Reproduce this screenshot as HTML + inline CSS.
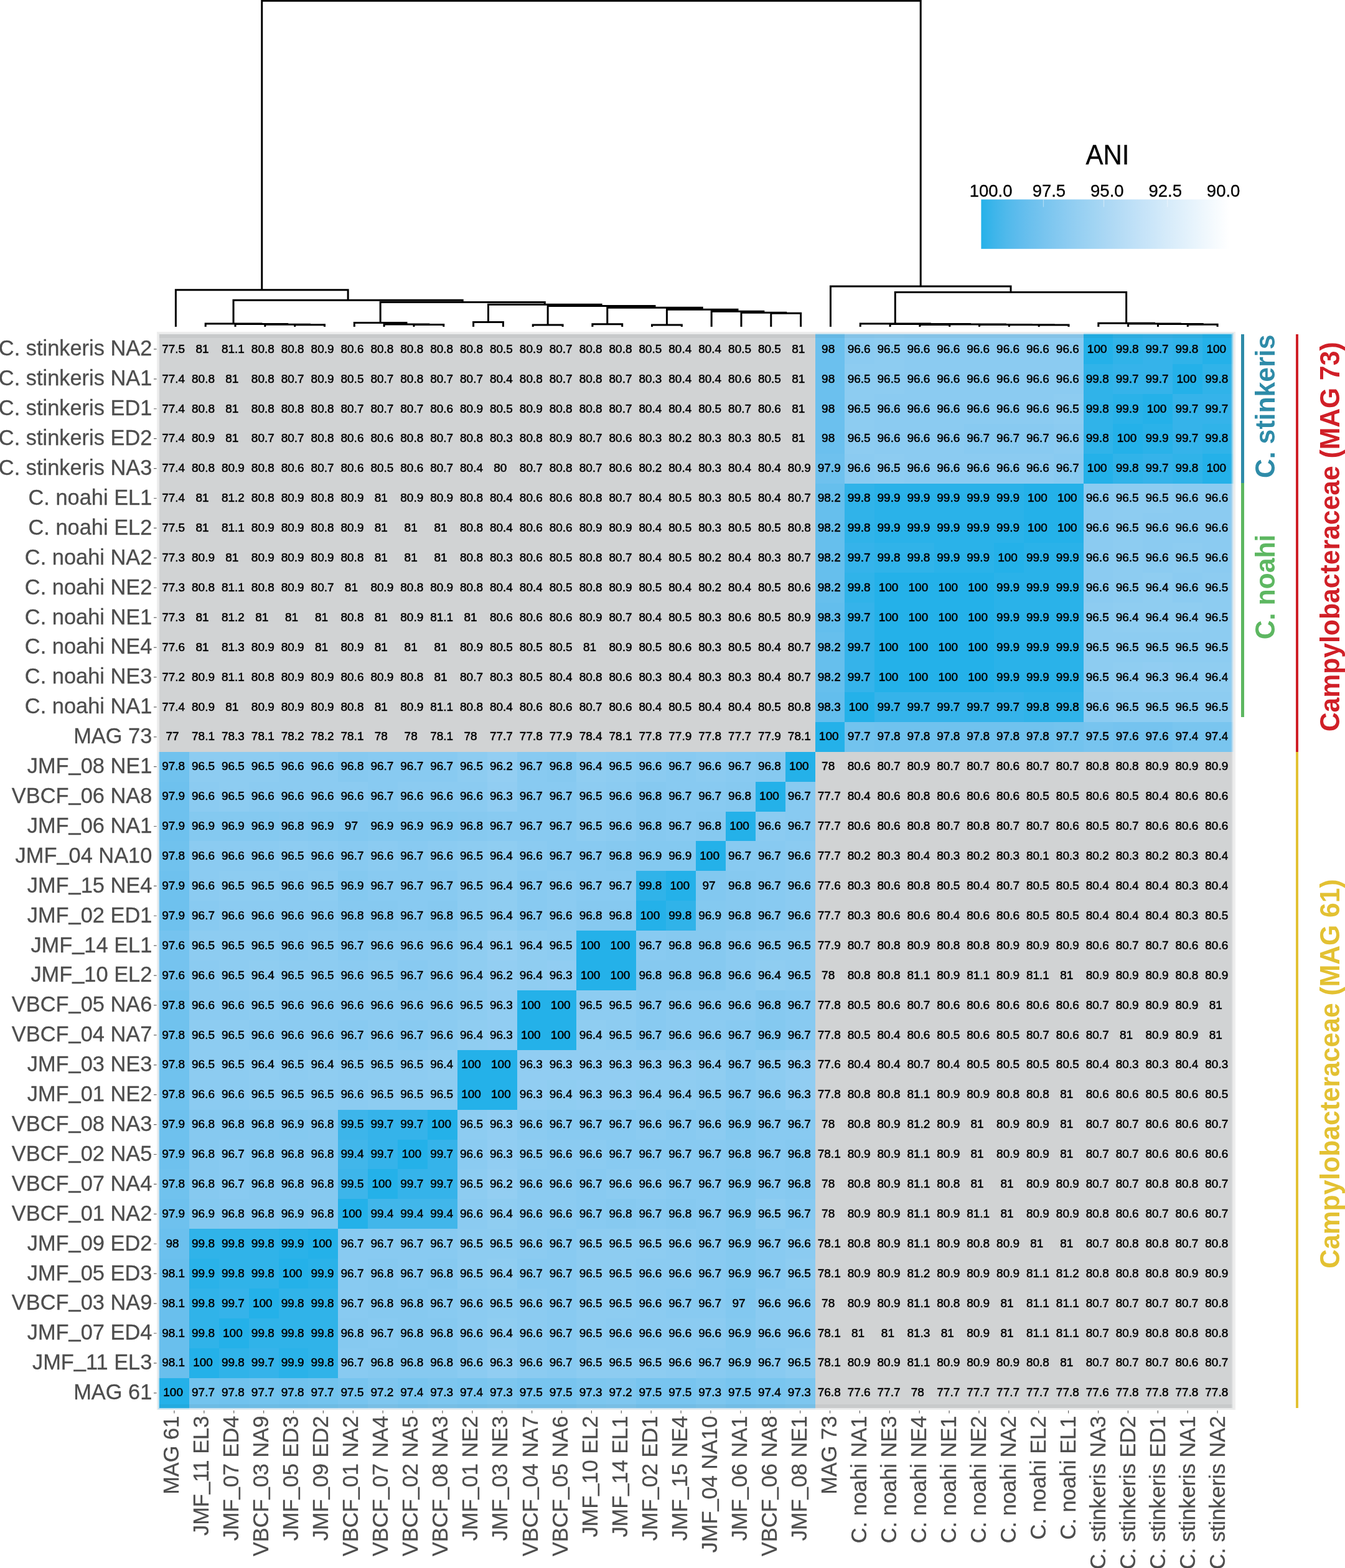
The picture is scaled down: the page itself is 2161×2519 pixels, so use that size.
<!DOCTYPE html>
<html lang="en"><head><meta charset="utf-8"><title>ANI heatmap</title>
<style>
html,body{margin:0;padding:0;background:#fff;}
body{width:2161px;height:2519px;}
svg{display:block;font-family:"Liberation Sans",sans-serif;}
.c text{font-size:19px;text-anchor:middle;fill:#000;stroke:#000;stroke-width:0.55px;}
.rl text,.cl text{font-size:34.4px;text-anchor:end;fill:#4d4d4d;stroke:#4d4d4d;stroke-width:0.3px;}
.den{fill:none;stroke:#000;stroke-width:3;stroke-linejoin:miter;stroke-linecap:butt;}
.an{font-size:42.5px;font-weight:bold;text-anchor:middle;}
.lg text{fill:#000;text-anchor:middle;stroke:#000;stroke-width:0.3px;}
</style></head>
<body>
<svg width="2161" height="2519" viewBox="0 0 2161 2519">
<rect width="2161" height="2519" fill="#fff"/>
<path class="den" d="M473.68 525V521.7H521.5V525M425.86 525V521.2H497.59V521.7M378.04 525V520.6H461.73V521.2M330.22 525V520H419.88V520.6M664.96 525V521.4H712.78V525M617.14 525V521H688.87V521.4M569.32 525V518.5H653V521M760.6 525V517.5H808.42V525M856.24 525V521.9H904.06V525M951.88 525V520.7H999.7V525M1047.52 525V521.9H1095.34V525M1238.8 525V503.2H1286.62V525M1190.98 525V502.2H1262.71V503.2M1143.16 525V500.2H1226.85V502.2M1071.43 521.9V497.3H1185V500.2M975.79 520.7V494.2H1128.22V497.3M880.15 521.9V491.6H1052V494.2M784.51 517.5V489.3H966.08V491.6M611.16 518.5V485.4H875.29V489.3M375.05 520V482.3H743.23V485.4M282.4 525V465.8H559.14V482.3M1908.28 525V521.2H1956.1V525M1860.46 525V520.6H1932.19V521.2M1812.64 525V520H1896.33V520.6M1764.82 525V519.2H1854.48V520M1669.18 525V522H1717V525M1621.36 525V521.7H1693.09V522M1573.54 525V521.4H1657.22V521.7M1477.9 525V521.4H1525.72V525M1501.81 521.4V521H1615.38V521.4M1430.08 525V520.5H1558.6V521M1382.26 525V520H1494.34V520.5M1438.3 520V469.6H1809.65V519.2M1334.44 525V460.1H1623.98V469.6M420.77 465.8V1.3H1479.21V460.1"/>
<g shape-rendering="crispEdges">
<rect x="252" y="532.6" width="1732.74" height="1732.16" fill="#eeeeee"/>
<rect x="254" y="535" width="1728.04" height="1728.76" fill="#d1d3d4"/>
<rect x="1309.58" y="535" width="47.89" height="49.91" fill="#6bc0ee"/>
<rect x="1357.47" y="535" width="47.89" height="49.91" fill="#8bcbf1"/>
<rect x="1405.36" y="535" width="47.89" height="49.91" fill="#8dccf1"/>
<rect x="1453.25" y="535" width="287.34" height="49.91" fill="#8bcbf1"/>
<rect x="1740.59" y="535" width="47.89" height="49.91" fill="#24b1e9"/>
<rect x="1788.48" y="535" width="47.89" height="49.91" fill="#30b3e9"/>
<rect x="1836.37" y="535" width="47.89" height="49.91" fill="#35b3ea"/>
<rect x="1884.26" y="535" width="47.89" height="49.91" fill="#30b3e9"/>
<rect x="1932.15" y="535" width="49.89" height="49.91" fill="#24b1e9"/>
<rect x="1309.58" y="584.91" width="47.89" height="47.91" fill="#6bc0ee"/>
<rect x="1357.47" y="584.91" width="95.78" height="47.91" fill="#8dccf1"/>
<rect x="1453.25" y="584.91" width="287.34" height="47.91" fill="#8bcbf1"/>
<rect x="1740.59" y="584.91" width="47.89" height="47.91" fill="#30b3e9"/>
<rect x="1788.48" y="584.91" width="95.78" height="47.91" fill="#35b3ea"/>
<rect x="1884.26" y="584.91" width="47.89" height="47.91" fill="#24b1e9"/>
<rect x="1932.15" y="584.91" width="49.89" height="47.91" fill="#30b3e9"/>
<rect x="1309.58" y="632.82" width="47.89" height="47.91" fill="#6bc0ee"/>
<rect x="1357.47" y="632.82" width="47.89" height="47.91" fill="#8dccf1"/>
<rect x="1405.36" y="632.82" width="287.34" height="47.91" fill="#8bcbf1"/>
<rect x="1692.7" y="632.82" width="47.89" height="47.91" fill="#8dccf1"/>
<rect x="1740.59" y="632.82" width="47.89" height="47.91" fill="#30b3e9"/>
<rect x="1788.48" y="632.82" width="47.89" height="47.91" fill="#2ab2e9"/>
<rect x="1836.37" y="632.82" width="47.89" height="47.91" fill="#24b1e9"/>
<rect x="1884.26" y="632.82" width="97.78" height="47.91" fill="#35b3ea"/>
<rect x="1309.58" y="680.73" width="47.89" height="47.91" fill="#6bc0ee"/>
<rect x="1357.47" y="680.73" width="47.89" height="47.91" fill="#8dccf1"/>
<rect x="1405.36" y="680.73" width="143.67" height="47.91" fill="#8bcbf1"/>
<rect x="1549.03" y="680.73" width="143.67" height="47.91" fill="#88caf1"/>
<rect x="1692.7" y="680.73" width="47.89" height="47.91" fill="#8bcbf1"/>
<rect x="1740.59" y="680.73" width="47.89" height="47.91" fill="#30b3e9"/>
<rect x="1788.48" y="680.73" width="47.89" height="47.91" fill="#24b1e9"/>
<rect x="1836.37" y="680.73" width="47.89" height="47.91" fill="#2ab2e9"/>
<rect x="1884.26" y="680.73" width="47.89" height="47.91" fill="#35b3ea"/>
<rect x="1932.15" y="680.73" width="49.89" height="47.91" fill="#30b3e9"/>
<rect x="1309.58" y="728.64" width="47.89" height="47.91" fill="#6ec1ee"/>
<rect x="1357.47" y="728.64" width="47.89" height="47.91" fill="#8bcbf1"/>
<rect x="1405.36" y="728.64" width="47.89" height="47.91" fill="#8dccf1"/>
<rect x="1453.25" y="728.64" width="239.45" height="47.91" fill="#8bcbf1"/>
<rect x="1692.7" y="728.64" width="47.89" height="47.91" fill="#88caf1"/>
<rect x="1740.59" y="728.64" width="47.89" height="47.91" fill="#24b1e9"/>
<rect x="1788.48" y="728.64" width="47.89" height="47.91" fill="#30b3e9"/>
<rect x="1836.37" y="728.64" width="47.89" height="47.91" fill="#35b3ea"/>
<rect x="1884.26" y="728.64" width="47.89" height="47.91" fill="#30b3e9"/>
<rect x="1932.15" y="728.64" width="49.89" height="47.91" fill="#24b1e9"/>
<rect x="1309.58" y="776.55" width="47.89" height="47.91" fill="#66bfed"/>
<rect x="1357.47" y="776.55" width="47.89" height="47.91" fill="#30b3e9"/>
<rect x="1405.36" y="776.55" width="239.45" height="47.91" fill="#2ab2e9"/>
<rect x="1644.81" y="776.55" width="95.78" height="47.91" fill="#24b1e9"/>
<rect x="1740.59" y="776.55" width="47.89" height="47.91" fill="#8bcbf1"/>
<rect x="1788.48" y="776.55" width="95.78" height="47.91" fill="#8dccf1"/>
<rect x="1884.26" y="776.55" width="97.78" height="47.91" fill="#8bcbf1"/>
<rect x="1309.58" y="824.46" width="47.89" height="47.91" fill="#66bfed"/>
<rect x="1357.47" y="824.46" width="47.89" height="47.91" fill="#30b3e9"/>
<rect x="1405.36" y="824.46" width="239.45" height="47.91" fill="#2ab2e9"/>
<rect x="1644.81" y="824.46" width="95.78" height="47.91" fill="#24b1e9"/>
<rect x="1740.59" y="824.46" width="47.89" height="47.91" fill="#8bcbf1"/>
<rect x="1788.48" y="824.46" width="47.89" height="47.91" fill="#8dccf1"/>
<rect x="1836.37" y="824.46" width="145.67" height="47.91" fill="#8bcbf1"/>
<rect x="1309.58" y="872.37" width="47.89" height="47.91" fill="#66bfed"/>
<rect x="1357.47" y="872.37" width="47.89" height="47.91" fill="#35b3ea"/>
<rect x="1405.36" y="872.37" width="95.78" height="47.91" fill="#30b3e9"/>
<rect x="1501.14" y="872.37" width="95.78" height="47.91" fill="#2ab2e9"/>
<rect x="1596.92" y="872.37" width="47.89" height="47.91" fill="#24b1e9"/>
<rect x="1644.81" y="872.37" width="95.78" height="47.91" fill="#2ab2e9"/>
<rect x="1740.59" y="872.37" width="47.89" height="47.91" fill="#8bcbf1"/>
<rect x="1788.48" y="872.37" width="47.89" height="47.91" fill="#8dccf1"/>
<rect x="1836.37" y="872.37" width="47.89" height="47.91" fill="#8bcbf1"/>
<rect x="1884.26" y="872.37" width="47.89" height="47.91" fill="#8dccf1"/>
<rect x="1932.15" y="872.37" width="49.89" height="47.91" fill="#8bcbf1"/>
<rect x="1309.58" y="920.28" width="47.89" height="47.91" fill="#66bfed"/>
<rect x="1357.47" y="920.28" width="47.89" height="47.91" fill="#30b3e9"/>
<rect x="1405.36" y="920.28" width="191.56" height="47.91" fill="#24b1e9"/>
<rect x="1596.92" y="920.28" width="143.67" height="47.91" fill="#2ab2e9"/>
<rect x="1740.59" y="920.28" width="47.89" height="47.91" fill="#8bcbf1"/>
<rect x="1788.48" y="920.28" width="47.89" height="47.91" fill="#8dccf1"/>
<rect x="1836.37" y="920.28" width="47.89" height="47.91" fill="#8fcdf1"/>
<rect x="1884.26" y="920.28" width="47.89" height="47.91" fill="#8bcbf1"/>
<rect x="1932.15" y="920.28" width="49.89" height="47.91" fill="#8dccf1"/>
<rect x="1309.58" y="968.19" width="47.89" height="47.91" fill="#63beed"/>
<rect x="1357.47" y="968.19" width="47.89" height="47.91" fill="#35b3ea"/>
<rect x="1405.36" y="968.19" width="191.56" height="47.91" fill="#24b1e9"/>
<rect x="1596.92" y="968.19" width="143.67" height="47.91" fill="#2ab2e9"/>
<rect x="1740.59" y="968.19" width="47.89" height="47.91" fill="#8dccf1"/>
<rect x="1788.48" y="968.19" width="143.67" height="47.91" fill="#8fcdf1"/>
<rect x="1932.15" y="968.19" width="49.89" height="47.91" fill="#8dccf1"/>
<rect x="1309.58" y="1016.1" width="47.89" height="47.91" fill="#66bfed"/>
<rect x="1357.47" y="1016.1" width="47.89" height="47.91" fill="#35b3ea"/>
<rect x="1405.36" y="1016.1" width="191.56" height="47.91" fill="#24b1e9"/>
<rect x="1596.92" y="1016.1" width="143.67" height="47.91" fill="#2ab2e9"/>
<rect x="1740.59" y="1016.1" width="241.45" height="47.91" fill="#8dccf1"/>
<rect x="1309.58" y="1064.01" width="47.89" height="47.91" fill="#66bfed"/>
<rect x="1357.47" y="1064.01" width="47.89" height="47.91" fill="#35b3ea"/>
<rect x="1405.36" y="1064.01" width="191.56" height="47.91" fill="#24b1e9"/>
<rect x="1596.92" y="1064.01" width="143.67" height="47.91" fill="#2ab2e9"/>
<rect x="1740.59" y="1064.01" width="47.89" height="47.91" fill="#8dccf1"/>
<rect x="1788.48" y="1064.01" width="47.89" height="47.91" fill="#8fcdf1"/>
<rect x="1836.37" y="1064.01" width="47.89" height="47.91" fill="#91cdf2"/>
<rect x="1884.26" y="1064.01" width="97.78" height="47.91" fill="#8fcdf1"/>
<rect x="1309.58" y="1111.92" width="47.89" height="47.91" fill="#63beed"/>
<rect x="1357.47" y="1111.92" width="47.89" height="47.91" fill="#24b1e9"/>
<rect x="1405.36" y="1111.92" width="239.45" height="47.91" fill="#35b3ea"/>
<rect x="1644.81" y="1111.92" width="95.78" height="47.91" fill="#30b3e9"/>
<rect x="1740.59" y="1111.92" width="47.89" height="47.91" fill="#8bcbf1"/>
<rect x="1788.48" y="1111.92" width="193.56" height="47.91" fill="#8dccf1"/>
<rect x="1309.58" y="1159.83" width="47.89" height="47.91" fill="#24b1e9"/>
<rect x="1357.47" y="1159.83" width="47.89" height="47.91" fill="#72c3ee"/>
<rect x="1405.36" y="1159.83" width="287.34" height="47.91" fill="#70c2ee"/>
<rect x="1692.7" y="1159.83" width="47.89" height="47.91" fill="#72c3ee"/>
<rect x="1740.59" y="1159.83" width="47.89" height="47.91" fill="#77c4ef"/>
<rect x="1788.48" y="1159.83" width="95.78" height="47.91" fill="#75c3ef"/>
<rect x="1884.26" y="1159.83" width="97.78" height="47.91" fill="#79c5ef"/>
<rect x="254" y="1207.74" width="49.89" height="47.91" fill="#70c2ee"/>
<rect x="303.89" y="1207.74" width="143.67" height="47.91" fill="#8dccf1"/>
<rect x="447.56" y="1207.74" width="95.78" height="47.91" fill="#8bcbf1"/>
<rect x="543.34" y="1207.74" width="47.89" height="47.91" fill="#86c9f0"/>
<rect x="591.23" y="1207.74" width="143.67" height="47.91" fill="#88caf1"/>
<rect x="734.9" y="1207.74" width="47.89" height="47.91" fill="#8dccf1"/>
<rect x="782.79" y="1207.74" width="47.89" height="47.91" fill="#93cef2"/>
<rect x="830.68" y="1207.74" width="47.89" height="47.91" fill="#88caf1"/>
<rect x="878.57" y="1207.74" width="47.89" height="47.91" fill="#86c9f0"/>
<rect x="926.46" y="1207.74" width="47.89" height="47.91" fill="#8fcdf1"/>
<rect x="974.35" y="1207.74" width="47.89" height="47.91" fill="#8dccf1"/>
<rect x="1022.24" y="1207.74" width="47.89" height="47.91" fill="#8bcbf1"/>
<rect x="1070.13" y="1207.74" width="47.89" height="47.91" fill="#88caf1"/>
<rect x="1118.02" y="1207.74" width="47.89" height="47.91" fill="#8bcbf1"/>
<rect x="1165.91" y="1207.74" width="47.89" height="47.91" fill="#88caf1"/>
<rect x="1213.8" y="1207.74" width="47.89" height="47.91" fill="#86c9f0"/>
<rect x="1261.69" y="1207.74" width="47.89" height="47.91" fill="#24b1e9"/>
<rect x="254" y="1255.65" width="49.89" height="47.91" fill="#6ec1ee"/>
<rect x="303.89" y="1255.65" width="47.89" height="47.91" fill="#8bcbf1"/>
<rect x="351.78" y="1255.65" width="47.89" height="47.91" fill="#8dccf1"/>
<rect x="399.67" y="1255.65" width="191.56" height="47.91" fill="#8bcbf1"/>
<rect x="591.23" y="1255.65" width="47.89" height="47.91" fill="#88caf1"/>
<rect x="639.12" y="1255.65" width="143.67" height="47.91" fill="#8bcbf1"/>
<rect x="782.79" y="1255.65" width="47.89" height="47.91" fill="#91cdf2"/>
<rect x="830.68" y="1255.65" width="95.78" height="47.91" fill="#88caf1"/>
<rect x="926.46" y="1255.65" width="47.89" height="47.91" fill="#8dccf1"/>
<rect x="974.35" y="1255.65" width="47.89" height="47.91" fill="#8bcbf1"/>
<rect x="1022.24" y="1255.65" width="47.89" height="47.91" fill="#86c9f0"/>
<rect x="1070.13" y="1255.65" width="95.78" height="47.91" fill="#88caf1"/>
<rect x="1165.91" y="1255.65" width="47.89" height="47.91" fill="#86c9f0"/>
<rect x="1213.8" y="1255.65" width="47.89" height="47.91" fill="#24b1e9"/>
<rect x="1261.69" y="1255.65" width="47.89" height="47.91" fill="#88caf1"/>
<rect x="254" y="1303.56" width="49.89" height="47.91" fill="#6ec1ee"/>
<rect x="303.89" y="1303.56" width="143.67" height="47.91" fill="#84c9f0"/>
<rect x="447.56" y="1303.56" width="47.89" height="47.91" fill="#86c9f0"/>
<rect x="495.45" y="1303.56" width="47.89" height="47.91" fill="#84c9f0"/>
<rect x="543.34" y="1303.56" width="47.89" height="47.91" fill="#82c8f0"/>
<rect x="591.23" y="1303.56" width="143.67" height="47.91" fill="#84c9f0"/>
<rect x="734.9" y="1303.56" width="47.89" height="47.91" fill="#86c9f0"/>
<rect x="782.79" y="1303.56" width="143.67" height="47.91" fill="#88caf1"/>
<rect x="926.46" y="1303.56" width="47.89" height="47.91" fill="#8dccf1"/>
<rect x="974.35" y="1303.56" width="47.89" height="47.91" fill="#8bcbf1"/>
<rect x="1022.24" y="1303.56" width="47.89" height="47.91" fill="#86c9f0"/>
<rect x="1070.13" y="1303.56" width="47.89" height="47.91" fill="#88caf1"/>
<rect x="1118.02" y="1303.56" width="47.89" height="47.91" fill="#86c9f0"/>
<rect x="1165.91" y="1303.56" width="47.89" height="47.91" fill="#24b1e9"/>
<rect x="1213.8" y="1303.56" width="47.89" height="47.91" fill="#8bcbf1"/>
<rect x="1261.69" y="1303.56" width="47.89" height="47.91" fill="#88caf1"/>
<rect x="254" y="1351.47" width="49.89" height="47.91" fill="#70c2ee"/>
<rect x="303.89" y="1351.47" width="143.67" height="47.91" fill="#8bcbf1"/>
<rect x="447.56" y="1351.47" width="47.89" height="47.91" fill="#8dccf1"/>
<rect x="495.45" y="1351.47" width="47.89" height="47.91" fill="#8bcbf1"/>
<rect x="543.34" y="1351.47" width="47.89" height="47.91" fill="#88caf1"/>
<rect x="591.23" y="1351.47" width="47.89" height="47.91" fill="#8bcbf1"/>
<rect x="639.12" y="1351.47" width="47.89" height="47.91" fill="#88caf1"/>
<rect x="687.01" y="1351.47" width="47.89" height="47.91" fill="#8bcbf1"/>
<rect x="734.9" y="1351.47" width="47.89" height="47.91" fill="#8dccf1"/>
<rect x="782.79" y="1351.47" width="47.89" height="47.91" fill="#8fcdf1"/>
<rect x="830.68" y="1351.47" width="47.89" height="47.91" fill="#8bcbf1"/>
<rect x="878.57" y="1351.47" width="95.78" height="47.91" fill="#88caf1"/>
<rect x="974.35" y="1351.47" width="47.89" height="47.91" fill="#86c9f0"/>
<rect x="1022.24" y="1351.47" width="95.78" height="47.91" fill="#84c9f0"/>
<rect x="1118.02" y="1351.47" width="47.89" height="47.91" fill="#24b1e9"/>
<rect x="1165.91" y="1351.47" width="95.78" height="47.91" fill="#88caf1"/>
<rect x="1261.69" y="1351.47" width="47.89" height="47.91" fill="#8bcbf1"/>
<rect x="254" y="1399.38" width="49.89" height="47.91" fill="#6ec1ee"/>
<rect x="303.89" y="1399.38" width="47.89" height="47.91" fill="#8bcbf1"/>
<rect x="351.78" y="1399.38" width="95.78" height="47.91" fill="#8dccf1"/>
<rect x="447.56" y="1399.38" width="47.89" height="47.91" fill="#8bcbf1"/>
<rect x="495.45" y="1399.38" width="47.89" height="47.91" fill="#8dccf1"/>
<rect x="543.34" y="1399.38" width="47.89" height="47.91" fill="#84c9f0"/>
<rect x="591.23" y="1399.38" width="143.67" height="47.91" fill="#88caf1"/>
<rect x="734.9" y="1399.38" width="47.89" height="47.91" fill="#8dccf1"/>
<rect x="782.79" y="1399.38" width="47.89" height="47.91" fill="#8fcdf1"/>
<rect x="830.68" y="1399.38" width="47.89" height="47.91" fill="#88caf1"/>
<rect x="878.57" y="1399.38" width="47.89" height="47.91" fill="#8bcbf1"/>
<rect x="926.46" y="1399.38" width="95.78" height="47.91" fill="#88caf1"/>
<rect x="1022.24" y="1399.38" width="47.89" height="47.91" fill="#30b3e9"/>
<rect x="1070.13" y="1399.38" width="47.89" height="47.91" fill="#24b1e9"/>
<rect x="1118.02" y="1399.38" width="47.89" height="47.91" fill="#82c8f0"/>
<rect x="1165.91" y="1399.38" width="47.89" height="47.91" fill="#86c9f0"/>
<rect x="1213.8" y="1399.38" width="47.89" height="47.91" fill="#88caf1"/>
<rect x="1261.69" y="1399.38" width="47.89" height="47.91" fill="#8bcbf1"/>
<rect x="254" y="1447.29" width="49.89" height="47.91" fill="#6ec1ee"/>
<rect x="303.89" y="1447.29" width="47.89" height="47.91" fill="#88caf1"/>
<rect x="351.78" y="1447.29" width="191.56" height="47.91" fill="#8bcbf1"/>
<rect x="543.34" y="1447.29" width="95.78" height="47.91" fill="#86c9f0"/>
<rect x="639.12" y="1447.29" width="47.89" height="47.91" fill="#88caf1"/>
<rect x="687.01" y="1447.29" width="47.89" height="47.91" fill="#86c9f0"/>
<rect x="734.9" y="1447.29" width="47.89" height="47.91" fill="#8dccf1"/>
<rect x="782.79" y="1447.29" width="47.89" height="47.91" fill="#8fcdf1"/>
<rect x="830.68" y="1447.29" width="47.89" height="47.91" fill="#88caf1"/>
<rect x="878.57" y="1447.29" width="47.89" height="47.91" fill="#8bcbf1"/>
<rect x="926.46" y="1447.29" width="95.78" height="47.91" fill="#86c9f0"/>
<rect x="1022.24" y="1447.29" width="47.89" height="47.91" fill="#24b1e9"/>
<rect x="1070.13" y="1447.29" width="47.89" height="47.91" fill="#30b3e9"/>
<rect x="1118.02" y="1447.29" width="47.89" height="47.91" fill="#84c9f0"/>
<rect x="1165.91" y="1447.29" width="47.89" height="47.91" fill="#86c9f0"/>
<rect x="1213.8" y="1447.29" width="47.89" height="47.91" fill="#88caf1"/>
<rect x="1261.69" y="1447.29" width="47.89" height="47.91" fill="#8bcbf1"/>
<rect x="254" y="1495.2" width="49.89" height="47.91" fill="#75c3ef"/>
<rect x="303.89" y="1495.2" width="143.67" height="47.91" fill="#8dccf1"/>
<rect x="447.56" y="1495.2" width="47.89" height="47.91" fill="#8bcbf1"/>
<rect x="495.45" y="1495.2" width="47.89" height="47.91" fill="#8dccf1"/>
<rect x="543.34" y="1495.2" width="47.89" height="47.91" fill="#88caf1"/>
<rect x="591.23" y="1495.2" width="143.67" height="47.91" fill="#8bcbf1"/>
<rect x="734.9" y="1495.2" width="47.89" height="47.91" fill="#8fcdf1"/>
<rect x="782.79" y="1495.2" width="47.89" height="47.91" fill="#95cff2"/>
<rect x="830.68" y="1495.2" width="47.89" height="47.91" fill="#8fcdf1"/>
<rect x="878.57" y="1495.2" width="47.89" height="47.91" fill="#8dccf1"/>
<rect x="926.46" y="1495.2" width="95.78" height="47.91" fill="#24b1e9"/>
<rect x="1022.24" y="1495.2" width="47.89" height="47.91" fill="#88caf1"/>
<rect x="1070.13" y="1495.2" width="95.78" height="47.91" fill="#86c9f0"/>
<rect x="1165.91" y="1495.2" width="47.89" height="47.91" fill="#8bcbf1"/>
<rect x="1213.8" y="1495.2" width="95.78" height="47.91" fill="#8dccf1"/>
<rect x="254" y="1543.11" width="49.89" height="47.91" fill="#75c3ef"/>
<rect x="303.89" y="1543.11" width="47.89" height="47.91" fill="#8bcbf1"/>
<rect x="351.78" y="1543.11" width="47.89" height="47.91" fill="#8dccf1"/>
<rect x="399.67" y="1543.11" width="47.89" height="47.91" fill="#8fcdf1"/>
<rect x="447.56" y="1543.11" width="95.78" height="47.91" fill="#8dccf1"/>
<rect x="543.34" y="1543.11" width="47.89" height="47.91" fill="#8bcbf1"/>
<rect x="591.23" y="1543.11" width="47.89" height="47.91" fill="#8dccf1"/>
<rect x="639.12" y="1543.11" width="47.89" height="47.91" fill="#88caf1"/>
<rect x="687.01" y="1543.11" width="47.89" height="47.91" fill="#8bcbf1"/>
<rect x="734.9" y="1543.11" width="47.89" height="47.91" fill="#8fcdf1"/>
<rect x="782.79" y="1543.11" width="47.89" height="47.91" fill="#93cef2"/>
<rect x="830.68" y="1543.11" width="47.89" height="47.91" fill="#8fcdf1"/>
<rect x="878.57" y="1543.11" width="47.89" height="47.91" fill="#91cdf2"/>
<rect x="926.46" y="1543.11" width="95.78" height="47.91" fill="#24b1e9"/>
<rect x="1022.24" y="1543.11" width="143.67" height="47.91" fill="#86c9f0"/>
<rect x="1165.91" y="1543.11" width="47.89" height="47.91" fill="#8bcbf1"/>
<rect x="1213.8" y="1543.11" width="47.89" height="47.91" fill="#8fcdf1"/>
<rect x="1261.69" y="1543.11" width="47.89" height="47.91" fill="#8dccf1"/>
<rect x="254" y="1591.02" width="49.89" height="47.91" fill="#70c2ee"/>
<rect x="303.89" y="1591.02" width="95.78" height="47.91" fill="#8bcbf1"/>
<rect x="399.67" y="1591.02" width="47.89" height="47.91" fill="#8dccf1"/>
<rect x="447.56" y="1591.02" width="287.34" height="47.91" fill="#8bcbf1"/>
<rect x="734.9" y="1591.02" width="47.89" height="47.91" fill="#8dccf1"/>
<rect x="782.79" y="1591.02" width="47.89" height="47.91" fill="#91cdf2"/>
<rect x="830.68" y="1591.02" width="95.78" height="47.91" fill="#24b1e9"/>
<rect x="926.46" y="1591.02" width="95.78" height="47.91" fill="#8dccf1"/>
<rect x="1022.24" y="1591.02" width="47.89" height="47.91" fill="#88caf1"/>
<rect x="1070.13" y="1591.02" width="143.67" height="47.91" fill="#8bcbf1"/>
<rect x="1213.8" y="1591.02" width="47.89" height="47.91" fill="#86c9f0"/>
<rect x="1261.69" y="1591.02" width="47.89" height="47.91" fill="#88caf1"/>
<rect x="254" y="1638.93" width="49.89" height="47.91" fill="#70c2ee"/>
<rect x="303.89" y="1638.93" width="95.78" height="47.91" fill="#8dccf1"/>
<rect x="399.67" y="1638.93" width="143.67" height="47.91" fill="#8bcbf1"/>
<rect x="543.34" y="1638.93" width="47.89" height="47.91" fill="#88caf1"/>
<rect x="591.23" y="1638.93" width="47.89" height="47.91" fill="#8bcbf1"/>
<rect x="639.12" y="1638.93" width="47.89" height="47.91" fill="#88caf1"/>
<rect x="687.01" y="1638.93" width="47.89" height="47.91" fill="#8bcbf1"/>
<rect x="734.9" y="1638.93" width="47.89" height="47.91" fill="#8fcdf1"/>
<rect x="782.79" y="1638.93" width="47.89" height="47.91" fill="#91cdf2"/>
<rect x="830.68" y="1638.93" width="95.78" height="47.91" fill="#24b1e9"/>
<rect x="926.46" y="1638.93" width="47.89" height="47.91" fill="#8fcdf1"/>
<rect x="974.35" y="1638.93" width="47.89" height="47.91" fill="#8dccf1"/>
<rect x="1022.24" y="1638.93" width="47.89" height="47.91" fill="#88caf1"/>
<rect x="1070.13" y="1638.93" width="95.78" height="47.91" fill="#8bcbf1"/>
<rect x="1165.91" y="1638.93" width="47.89" height="47.91" fill="#88caf1"/>
<rect x="1213.8" y="1638.93" width="47.89" height="47.91" fill="#84c9f0"/>
<rect x="1261.69" y="1638.93" width="47.89" height="47.91" fill="#88caf1"/>
<rect x="254" y="1686.84" width="49.89" height="47.91" fill="#70c2ee"/>
<rect x="303.89" y="1686.84" width="95.78" height="47.91" fill="#8dccf1"/>
<rect x="399.67" y="1686.84" width="47.89" height="47.91" fill="#8fcdf1"/>
<rect x="447.56" y="1686.84" width="47.89" height="47.91" fill="#8dccf1"/>
<rect x="495.45" y="1686.84" width="47.89" height="47.91" fill="#8fcdf1"/>
<rect x="543.34" y="1686.84" width="143.67" height="47.91" fill="#8dccf1"/>
<rect x="687.01" y="1686.84" width="47.89" height="47.91" fill="#8fcdf1"/>
<rect x="734.9" y="1686.84" width="95.78" height="47.91" fill="#24b1e9"/>
<rect x="830.68" y="1686.84" width="287.34" height="47.91" fill="#91cdf2"/>
<rect x="1118.02" y="1686.84" width="47.89" height="47.91" fill="#8fcdf1"/>
<rect x="1165.91" y="1686.84" width="47.89" height="47.91" fill="#88caf1"/>
<rect x="1213.8" y="1686.84" width="47.89" height="47.91" fill="#8dccf1"/>
<rect x="1261.69" y="1686.84" width="47.89" height="47.91" fill="#91cdf2"/>
<rect x="254" y="1734.75" width="49.89" height="47.91" fill="#70c2ee"/>
<rect x="303.89" y="1734.75" width="95.78" height="47.91" fill="#8bcbf1"/>
<rect x="399.67" y="1734.75" width="143.67" height="47.91" fill="#8dccf1"/>
<rect x="543.34" y="1734.75" width="47.89" height="47.91" fill="#8bcbf1"/>
<rect x="591.23" y="1734.75" width="143.67" height="47.91" fill="#8dccf1"/>
<rect x="734.9" y="1734.75" width="95.78" height="47.91" fill="#24b1e9"/>
<rect x="830.68" y="1734.75" width="47.89" height="47.91" fill="#91cdf2"/>
<rect x="878.57" y="1734.75" width="47.89" height="47.91" fill="#8fcdf1"/>
<rect x="926.46" y="1734.75" width="95.78" height="47.91" fill="#91cdf2"/>
<rect x="1022.24" y="1734.75" width="95.78" height="47.91" fill="#8fcdf1"/>
<rect x="1118.02" y="1734.75" width="47.89" height="47.91" fill="#8dccf1"/>
<rect x="1165.91" y="1734.75" width="47.89" height="47.91" fill="#88caf1"/>
<rect x="1213.8" y="1734.75" width="47.89" height="47.91" fill="#8bcbf1"/>
<rect x="1261.69" y="1734.75" width="47.89" height="47.91" fill="#91cdf2"/>
<rect x="254" y="1782.66" width="49.89" height="47.91" fill="#6ec1ee"/>
<rect x="303.89" y="1782.66" width="143.67" height="47.91" fill="#86c9f0"/>
<rect x="447.56" y="1782.66" width="47.89" height="47.91" fill="#84c9f0"/>
<rect x="495.45" y="1782.66" width="47.89" height="47.91" fill="#86c9f0"/>
<rect x="543.34" y="1782.66" width="47.89" height="47.91" fill="#3db5ea"/>
<rect x="591.23" y="1782.66" width="95.78" height="47.91" fill="#35b3ea"/>
<rect x="687.01" y="1782.66" width="47.89" height="47.91" fill="#24b1e9"/>
<rect x="734.9" y="1782.66" width="47.89" height="47.91" fill="#8dccf1"/>
<rect x="782.79" y="1782.66" width="47.89" height="47.91" fill="#91cdf2"/>
<rect x="830.68" y="1782.66" width="47.89" height="47.91" fill="#8bcbf1"/>
<rect x="878.57" y="1782.66" width="143.67" height="47.91" fill="#88caf1"/>
<rect x="1022.24" y="1782.66" width="47.89" height="47.91" fill="#8bcbf1"/>
<rect x="1070.13" y="1782.66" width="47.89" height="47.91" fill="#88caf1"/>
<rect x="1118.02" y="1782.66" width="47.89" height="47.91" fill="#8bcbf1"/>
<rect x="1165.91" y="1782.66" width="47.89" height="47.91" fill="#84c9f0"/>
<rect x="1213.8" y="1782.66" width="95.78" height="47.91" fill="#88caf1"/>
<rect x="254" y="1830.57" width="49.89" height="47.91" fill="#6ec1ee"/>
<rect x="303.89" y="1830.57" width="47.89" height="47.91" fill="#86c9f0"/>
<rect x="351.78" y="1830.57" width="47.89" height="47.91" fill="#88caf1"/>
<rect x="399.67" y="1830.57" width="143.67" height="47.91" fill="#86c9f0"/>
<rect x="543.34" y="1830.57" width="47.89" height="47.91" fill="#41b6ea"/>
<rect x="591.23" y="1830.57" width="47.89" height="47.91" fill="#35b3ea"/>
<rect x="639.12" y="1830.57" width="47.89" height="47.91" fill="#24b1e9"/>
<rect x="687.01" y="1830.57" width="47.89" height="47.91" fill="#35b3ea"/>
<rect x="734.9" y="1830.57" width="47.89" height="47.91" fill="#8bcbf1"/>
<rect x="782.79" y="1830.57" width="47.89" height="47.91" fill="#91cdf2"/>
<rect x="830.68" y="1830.57" width="47.89" height="47.91" fill="#8dccf1"/>
<rect x="878.57" y="1830.57" width="95.78" height="47.91" fill="#8bcbf1"/>
<rect x="974.35" y="1830.57" width="191.56" height="47.91" fill="#88caf1"/>
<rect x="1165.91" y="1830.57" width="47.89" height="47.91" fill="#86c9f0"/>
<rect x="1213.8" y="1830.57" width="47.89" height="47.91" fill="#88caf1"/>
<rect x="1261.69" y="1830.57" width="47.89" height="47.91" fill="#86c9f0"/>
<rect x="254" y="1878.48" width="49.89" height="47.91" fill="#70c2ee"/>
<rect x="303.89" y="1878.48" width="47.89" height="47.91" fill="#86c9f0"/>
<rect x="351.78" y="1878.48" width="47.89" height="47.91" fill="#88caf1"/>
<rect x="399.67" y="1878.48" width="143.67" height="47.91" fill="#86c9f0"/>
<rect x="543.34" y="1878.48" width="47.89" height="47.91" fill="#3db5ea"/>
<rect x="591.23" y="1878.48" width="47.89" height="47.91" fill="#24b1e9"/>
<rect x="639.12" y="1878.48" width="95.78" height="47.91" fill="#35b3ea"/>
<rect x="734.9" y="1878.48" width="47.89" height="47.91" fill="#8dccf1"/>
<rect x="782.79" y="1878.48" width="47.89" height="47.91" fill="#93cef2"/>
<rect x="830.68" y="1878.48" width="95.78" height="47.91" fill="#8bcbf1"/>
<rect x="926.46" y="1878.48" width="47.89" height="47.91" fill="#88caf1"/>
<rect x="974.35" y="1878.48" width="95.78" height="47.91" fill="#8bcbf1"/>
<rect x="1070.13" y="1878.48" width="95.78" height="47.91" fill="#88caf1"/>
<rect x="1165.91" y="1878.48" width="47.89" height="47.91" fill="#84c9f0"/>
<rect x="1213.8" y="1878.48" width="47.89" height="47.91" fill="#88caf1"/>
<rect x="1261.69" y="1878.48" width="47.89" height="47.91" fill="#86c9f0"/>
<rect x="254" y="1926.39" width="49.89" height="47.91" fill="#6ec1ee"/>
<rect x="303.89" y="1926.39" width="47.89" height="47.91" fill="#84c9f0"/>
<rect x="351.78" y="1926.39" width="95.78" height="47.91" fill="#86c9f0"/>
<rect x="447.56" y="1926.39" width="47.89" height="47.91" fill="#84c9f0"/>
<rect x="495.45" y="1926.39" width="47.89" height="47.91" fill="#86c9f0"/>
<rect x="543.34" y="1926.39" width="47.89" height="47.91" fill="#24b1e9"/>
<rect x="591.23" y="1926.39" width="143.67" height="47.91" fill="#41b6ea"/>
<rect x="734.9" y="1926.39" width="47.89" height="47.91" fill="#8bcbf1"/>
<rect x="782.79" y="1926.39" width="47.89" height="47.91" fill="#8fcdf1"/>
<rect x="830.68" y="1926.39" width="95.78" height="47.91" fill="#8bcbf1"/>
<rect x="926.46" y="1926.39" width="47.89" height="47.91" fill="#88caf1"/>
<rect x="974.35" y="1926.39" width="47.89" height="47.91" fill="#86c9f0"/>
<rect x="1022.24" y="1926.39" width="47.89" height="47.91" fill="#88caf1"/>
<rect x="1070.13" y="1926.39" width="47.89" height="47.91" fill="#86c9f0"/>
<rect x="1118.02" y="1926.39" width="47.89" height="47.91" fill="#88caf1"/>
<rect x="1165.91" y="1926.39" width="47.89" height="47.91" fill="#84c9f0"/>
<rect x="1213.8" y="1926.39" width="47.89" height="47.91" fill="#8dccf1"/>
<rect x="1261.69" y="1926.39" width="47.89" height="47.91" fill="#88caf1"/>
<rect x="254" y="1974.3" width="49.89" height="47.91" fill="#6bc0ee"/>
<rect x="303.89" y="1974.3" width="143.67" height="47.91" fill="#30b3e9"/>
<rect x="447.56" y="1974.3" width="47.89" height="47.91" fill="#2ab2e9"/>
<rect x="495.45" y="1974.3" width="47.89" height="47.91" fill="#24b1e9"/>
<rect x="543.34" y="1974.3" width="191.56" height="47.91" fill="#88caf1"/>
<rect x="734.9" y="1974.3" width="95.78" height="47.91" fill="#8dccf1"/>
<rect x="830.68" y="1974.3" width="47.89" height="47.91" fill="#8bcbf1"/>
<rect x="878.57" y="1974.3" width="47.89" height="47.91" fill="#88caf1"/>
<rect x="926.46" y="1974.3" width="143.67" height="47.91" fill="#8dccf1"/>
<rect x="1070.13" y="1974.3" width="47.89" height="47.91" fill="#8bcbf1"/>
<rect x="1118.02" y="1974.3" width="47.89" height="47.91" fill="#88caf1"/>
<rect x="1165.91" y="1974.3" width="47.89" height="47.91" fill="#84c9f0"/>
<rect x="1213.8" y="1974.3" width="47.89" height="47.91" fill="#88caf1"/>
<rect x="1261.69" y="1974.3" width="47.89" height="47.91" fill="#8bcbf1"/>
<rect x="254" y="2022.21" width="49.89" height="47.91" fill="#69bfed"/>
<rect x="303.89" y="2022.21" width="47.89" height="47.91" fill="#2ab2e9"/>
<rect x="351.78" y="2022.21" width="95.78" height="47.91" fill="#30b3e9"/>
<rect x="447.56" y="2022.21" width="47.89" height="47.91" fill="#24b1e9"/>
<rect x="495.45" y="2022.21" width="47.89" height="47.91" fill="#2ab2e9"/>
<rect x="543.34" y="2022.21" width="47.89" height="47.91" fill="#88caf1"/>
<rect x="591.23" y="2022.21" width="47.89" height="47.91" fill="#86c9f0"/>
<rect x="639.12" y="2022.21" width="47.89" height="47.91" fill="#88caf1"/>
<rect x="687.01" y="2022.21" width="47.89" height="47.91" fill="#86c9f0"/>
<rect x="734.9" y="2022.21" width="47.89" height="47.91" fill="#8dccf1"/>
<rect x="782.79" y="2022.21" width="47.89" height="47.91" fill="#8fcdf1"/>
<rect x="830.68" y="2022.21" width="95.78" height="47.91" fill="#88caf1"/>
<rect x="926.46" y="2022.21" width="95.78" height="47.91" fill="#8dccf1"/>
<rect x="1022.24" y="2022.21" width="95.78" height="47.91" fill="#8bcbf1"/>
<rect x="1118.02" y="2022.21" width="47.89" height="47.91" fill="#88caf1"/>
<rect x="1165.91" y="2022.21" width="47.89" height="47.91" fill="#84c9f0"/>
<rect x="1213.8" y="2022.21" width="47.89" height="47.91" fill="#88caf1"/>
<rect x="1261.69" y="2022.21" width="47.89" height="47.91" fill="#8dccf1"/>
<rect x="254" y="2070.12" width="49.89" height="47.91" fill="#69bfed"/>
<rect x="303.89" y="2070.12" width="47.89" height="47.91" fill="#30b3e9"/>
<rect x="351.78" y="2070.12" width="47.89" height="47.91" fill="#35b3ea"/>
<rect x="399.67" y="2070.12" width="47.89" height="47.91" fill="#24b1e9"/>
<rect x="447.56" y="2070.12" width="95.78" height="47.91" fill="#30b3e9"/>
<rect x="543.34" y="2070.12" width="47.89" height="47.91" fill="#88caf1"/>
<rect x="591.23" y="2070.12" width="95.78" height="47.91" fill="#86c9f0"/>
<rect x="687.01" y="2070.12" width="47.89" height="47.91" fill="#88caf1"/>
<rect x="734.9" y="2070.12" width="47.89" height="47.91" fill="#8bcbf1"/>
<rect x="782.79" y="2070.12" width="47.89" height="47.91" fill="#8dccf1"/>
<rect x="830.68" y="2070.12" width="47.89" height="47.91" fill="#8bcbf1"/>
<rect x="878.57" y="2070.12" width="47.89" height="47.91" fill="#88caf1"/>
<rect x="926.46" y="2070.12" width="95.78" height="47.91" fill="#8dccf1"/>
<rect x="1022.24" y="2070.12" width="47.89" height="47.91" fill="#8bcbf1"/>
<rect x="1070.13" y="2070.12" width="95.78" height="47.91" fill="#88caf1"/>
<rect x="1165.91" y="2070.12" width="47.89" height="47.91" fill="#82c8f0"/>
<rect x="1213.8" y="2070.12" width="95.78" height="47.91" fill="#8bcbf1"/>
<rect x="254" y="2118.03" width="49.89" height="47.91" fill="#69bfed"/>
<rect x="303.89" y="2118.03" width="47.89" height="47.91" fill="#30b3e9"/>
<rect x="351.78" y="2118.03" width="47.89" height="47.91" fill="#24b1e9"/>
<rect x="399.67" y="2118.03" width="143.67" height="47.91" fill="#30b3e9"/>
<rect x="543.34" y="2118.03" width="47.89" height="47.91" fill="#86c9f0"/>
<rect x="591.23" y="2118.03" width="47.89" height="47.91" fill="#88caf1"/>
<rect x="639.12" y="2118.03" width="95.78" height="47.91" fill="#86c9f0"/>
<rect x="734.9" y="2118.03" width="47.89" height="47.91" fill="#8bcbf1"/>
<rect x="782.79" y="2118.03" width="47.89" height="47.91" fill="#8fcdf1"/>
<rect x="830.68" y="2118.03" width="47.89" height="47.91" fill="#8bcbf1"/>
<rect x="878.57" y="2118.03" width="47.89" height="47.91" fill="#88caf1"/>
<rect x="926.46" y="2118.03" width="47.89" height="47.91" fill="#8dccf1"/>
<rect x="974.35" y="2118.03" width="191.56" height="47.91" fill="#8bcbf1"/>
<rect x="1165.91" y="2118.03" width="47.89" height="47.91" fill="#84c9f0"/>
<rect x="1213.8" y="2118.03" width="95.78" height="47.91" fill="#8bcbf1"/>
<rect x="254" y="2165.94" width="49.89" height="47.91" fill="#69bfed"/>
<rect x="303.89" y="2165.94" width="47.89" height="47.91" fill="#24b1e9"/>
<rect x="351.78" y="2165.94" width="47.89" height="47.91" fill="#30b3e9"/>
<rect x="399.67" y="2165.94" width="47.89" height="47.91" fill="#35b3ea"/>
<rect x="447.56" y="2165.94" width="47.89" height="47.91" fill="#2ab2e9"/>
<rect x="495.45" y="2165.94" width="47.89" height="47.91" fill="#30b3e9"/>
<rect x="543.34" y="2165.94" width="47.89" height="47.91" fill="#88caf1"/>
<rect x="591.23" y="2165.94" width="143.67" height="47.91" fill="#86c9f0"/>
<rect x="734.9" y="2165.94" width="47.89" height="47.91" fill="#8bcbf1"/>
<rect x="782.79" y="2165.94" width="47.89" height="47.91" fill="#91cdf2"/>
<rect x="830.68" y="2165.94" width="47.89" height="47.91" fill="#8bcbf1"/>
<rect x="878.57" y="2165.94" width="47.89" height="47.91" fill="#88caf1"/>
<rect x="926.46" y="2165.94" width="143.67" height="47.91" fill="#8dccf1"/>
<rect x="1070.13" y="2165.94" width="47.89" height="47.91" fill="#8bcbf1"/>
<rect x="1118.02" y="2165.94" width="47.89" height="47.91" fill="#88caf1"/>
<rect x="1165.91" y="2165.94" width="47.89" height="47.91" fill="#84c9f0"/>
<rect x="1213.8" y="2165.94" width="47.89" height="47.91" fill="#88caf1"/>
<rect x="1261.69" y="2165.94" width="47.89" height="47.91" fill="#8dccf1"/>
<rect x="254" y="2213.85" width="49.89" height="49.91" fill="#24b1e9"/>
<rect x="303.89" y="2213.85" width="47.89" height="49.91" fill="#72c3ee"/>
<rect x="351.78" y="2213.85" width="47.89" height="49.91" fill="#70c2ee"/>
<rect x="399.67" y="2213.85" width="47.89" height="49.91" fill="#72c3ee"/>
<rect x="447.56" y="2213.85" width="47.89" height="49.91" fill="#70c2ee"/>
<rect x="495.45" y="2213.85" width="47.89" height="49.91" fill="#72c3ee"/>
<rect x="543.34" y="2213.85" width="47.89" height="49.91" fill="#77c4ef"/>
<rect x="591.23" y="2213.85" width="47.89" height="49.91" fill="#7ec6ef"/>
<rect x="639.12" y="2213.85" width="47.89" height="49.91" fill="#79c5ef"/>
<rect x="687.01" y="2213.85" width="47.89" height="49.91" fill="#7cc6ef"/>
<rect x="734.9" y="2213.85" width="47.89" height="49.91" fill="#79c5ef"/>
<rect x="782.79" y="2213.85" width="47.89" height="49.91" fill="#7cc6ef"/>
<rect x="830.68" y="2213.85" width="95.78" height="49.91" fill="#77c4ef"/>
<rect x="926.46" y="2213.85" width="47.89" height="49.91" fill="#7cc6ef"/>
<rect x="974.35" y="2213.85" width="47.89" height="49.91" fill="#7ec6ef"/>
<rect x="1022.24" y="2213.85" width="95.78" height="49.91" fill="#77c4ef"/>
<rect x="1118.02" y="2213.85" width="47.89" height="49.91" fill="#7cc6ef"/>
<rect x="1165.91" y="2213.85" width="47.89" height="49.91" fill="#77c4ef"/>
<rect x="1213.8" y="2213.85" width="47.89" height="49.91" fill="#79c5ef"/>
<rect x="1261.69" y="2213.85" width="47.89" height="49.91" fill="#7cc6ef"/>
<path fill="#f2f2f2" fill-opacity="0.72" fill-rule="evenodd" d="M254 535H1982.04V2263.76H254ZM256 537H1980.04V2261.76H256Z"/>
<rect x="256" y="537" width="1724.04" height="6.3" fill="#000" fill-opacity="0.04"/>
<rect x="256" y="2256.26" width="1724.04" height="5.5" fill="#000" fill-opacity="0.04"/>
<rect x="1978.04" y="537" width="2" height="1724.76" fill="#e4e6e8" fill-opacity="0.3"/>
</g>
<g class="c">
<g transform="translate(0 566.75) scale(1 1.01)"><text x="278.64">77.5</text><text x="324.95">81</text><text x="374.43">81.1</text><text x="422.31">80.8</text><text x="470.2">80.8</text><text x="518.1">80.9</text><text x="565.99">80.6</text><text x="613.88">80.8</text><text x="661.77">80.8</text><text x="709.65">80.8</text><text x="757.55">80.8</text><text x="805.44">80.5</text><text x="853.33">80.9</text><text x="901.22">80.7</text><text x="949.11">80.8</text><text x="997">80.8</text><text x="1044.88">80.5</text><text x="1092.78">80.4</text><text x="1140.67">80.4</text><text x="1188.56">80.5</text><text x="1236.44">80.5</text><text x="1282.75">81</text><text x="1330.64">98</text><text x="1380.12">96.6</text><text x="1428.01">96.5</text><text x="1475.89">96.6</text><text x="1523.79">96.6</text><text x="1571.67">96.6</text><text x="1619.57">96.6</text><text x="1667.46">96.6</text><text x="1715.35">96.6</text><text x="1762.71">100</text><text x="1811.12">99.8</text><text x="1859.02">99.7</text><text x="1906.9">99.8</text><text x="1954.27">100</text></g>
<g transform="translate(0 614.66) scale(1 1.01)"><text x="278.64">77.4</text><text x="326.54">80.8</text><text x="372.84">81</text><text x="422.31">80.8</text><text x="470.2">80.7</text><text x="518.1">80.9</text><text x="565.99">80.5</text><text x="613.88">80.7</text><text x="661.77">80.8</text><text x="709.65">80.7</text><text x="757.55">80.7</text><text x="805.44">80.4</text><text x="853.33">80.8</text><text x="901.22">80.7</text><text x="949.11">80.8</text><text x="997">80.7</text><text x="1044.88">80.3</text><text x="1092.78">80.4</text><text x="1140.67">80.4</text><text x="1188.56">80.6</text><text x="1236.44">80.5</text><text x="1282.75">81</text><text x="1330.64">98</text><text x="1380.12">96.5</text><text x="1428.01">96.5</text><text x="1475.89">96.6</text><text x="1523.79">96.6</text><text x="1571.67">96.6</text><text x="1619.57">96.6</text><text x="1667.46">96.6</text><text x="1715.35">96.6</text><text x="1763.24">99.8</text><text x="1811.12">99.7</text><text x="1859.02">99.7</text><text x="1906.38">100</text><text x="1954.8">99.8</text></g>
<g transform="translate(0 662.56) scale(1 1.01)"><text x="278.64">77.4</text><text x="326.54">80.8</text><text x="372.84">81</text><text x="422.31">80.8</text><text x="470.2">80.8</text><text x="518.1">80.8</text><text x="565.99">80.7</text><text x="613.88">80.7</text><text x="661.77">80.7</text><text x="709.65">80.6</text><text x="757.55">80.9</text><text x="805.44">80.5</text><text x="853.33">80.9</text><text x="901.22">80.8</text><text x="949.11">80.8</text><text x="997">80.7</text><text x="1044.88">80.4</text><text x="1092.78">80.4</text><text x="1140.67">80.5</text><text x="1188.56">80.7</text><text x="1236.44">80.6</text><text x="1282.75">81</text><text x="1330.64">98</text><text x="1380.12">96.5</text><text x="1428.01">96.6</text><text x="1475.89">96.6</text><text x="1523.79">96.6</text><text x="1571.67">96.6</text><text x="1619.57">96.6</text><text x="1667.46">96.6</text><text x="1715.35">96.5</text><text x="1763.24">99.8</text><text x="1811.12">99.9</text><text x="1858.49">100</text><text x="1906.9">99.7</text><text x="1954.8">99.7</text></g>
<g transform="translate(0 710.46) scale(1 1.01)"><text x="278.64">77.4</text><text x="326.54">80.9</text><text x="372.84">81</text><text x="422.31">80.7</text><text x="470.2">80.7</text><text x="518.1">80.8</text><text x="565.99">80.6</text><text x="613.88">80.6</text><text x="661.77">80.8</text><text x="709.65">80.7</text><text x="757.55">80.8</text><text x="805.44">80.3</text><text x="853.33">80.8</text><text x="901.22">80.9</text><text x="949.11">80.7</text><text x="997">80.6</text><text x="1044.88">80.3</text><text x="1092.78">80.2</text><text x="1140.67">80.3</text><text x="1188.56">80.3</text><text x="1236.44">80.5</text><text x="1282.75">81</text><text x="1330.64">98</text><text x="1380.12">96.5</text><text x="1428.01">96.6</text><text x="1475.89">96.6</text><text x="1523.79">96.6</text><text x="1571.67">96.7</text><text x="1619.57">96.7</text><text x="1667.46">96.7</text><text x="1715.35">96.6</text><text x="1763.24">99.8</text><text x="1810.6">100</text><text x="1859.02">99.9</text><text x="1906.9">99.7</text><text x="1954.8">99.8</text></g>
<g transform="translate(0 758.36) scale(1 1.01)"><text x="278.64">77.4</text><text x="326.54">80.8</text><text x="374.43">80.9</text><text x="422.31">80.8</text><text x="470.2">80.6</text><text x="518.1">80.7</text><text x="565.99">80.6</text><text x="613.88">80.5</text><text x="661.77">80.6</text><text x="709.65">80.7</text><text x="757.55">80.4</text><text x="803.85">80</text><text x="853.33">80.7</text><text x="901.22">80.8</text><text x="949.11">80.7</text><text x="997">80.6</text><text x="1044.88">80.2</text><text x="1092.78">80.4</text><text x="1140.67">80.3</text><text x="1188.56">80.4</text><text x="1236.44">80.4</text><text x="1284.34">80.9</text><text x="1332.23">97.9</text><text x="1380.12">96.6</text><text x="1428.01">96.5</text><text x="1475.89">96.6</text><text x="1523.79">96.6</text><text x="1571.67">96.6</text><text x="1619.57">96.6</text><text x="1667.46">96.6</text><text x="1715.35">96.7</text><text x="1762.71">100</text><text x="1811.12">99.8</text><text x="1859.02">99.7</text><text x="1906.9">99.8</text><text x="1954.27">100</text></g>
<g transform="translate(0 806.26) scale(1 1.01)"><text x="278.64">77.4</text><text x="324.95">81</text><text x="374.43">81.2</text><text x="422.31">80.8</text><text x="470.2">80.9</text><text x="518.1">80.8</text><text x="565.99">80.9</text><text x="612.29">81</text><text x="661.77">80.9</text><text x="709.65">80.9</text><text x="757.55">80.8</text><text x="805.44">80.4</text><text x="853.33">80.6</text><text x="901.22">80.6</text><text x="949.11">80.8</text><text x="997">80.7</text><text x="1044.88">80.4</text><text x="1092.78">80.5</text><text x="1140.67">80.3</text><text x="1188.56">80.5</text><text x="1236.44">80.4</text><text x="1284.34">80.7</text><text x="1332.23">98.2</text><text x="1380.12">99.8</text><text x="1428.01">99.9</text><text x="1475.89">99.9</text><text x="1523.79">99.9</text><text x="1571.67">99.9</text><text x="1619.57">99.9</text><text x="1666.93">100</text><text x="1714.82">100</text><text x="1763.24">96.6</text><text x="1811.12">96.5</text><text x="1859.02">96.5</text><text x="1906.9">96.6</text><text x="1954.8">96.6</text></g>
<g transform="translate(0 854.17) scale(1 1.01)"><text x="278.64">77.5</text><text x="324.95">81</text><text x="374.43">81.1</text><text x="422.31">80.9</text><text x="470.2">80.9</text><text x="518.1">80.8</text><text x="565.99">80.9</text><text x="612.29">81</text><text x="660.18">81</text><text x="708.07">81</text><text x="757.55">80.8</text><text x="805.44">80.4</text><text x="853.33">80.6</text><text x="901.22">80.6</text><text x="949.11">80.9</text><text x="997">80.9</text><text x="1044.88">80.4</text><text x="1092.78">80.5</text><text x="1140.67">80.3</text><text x="1188.56">80.5</text><text x="1236.44">80.5</text><text x="1284.34">80.8</text><text x="1332.23">98.2</text><text x="1380.12">99.8</text><text x="1428.01">99.9</text><text x="1475.89">99.9</text><text x="1523.79">99.9</text><text x="1571.67">99.9</text><text x="1619.57">99.9</text><text x="1666.93">100</text><text x="1714.82">100</text><text x="1763.24">96.6</text><text x="1811.12">96.5</text><text x="1859.02">96.6</text><text x="1906.9">96.6</text><text x="1954.8">96.6</text></g>
<g transform="translate(0 902.07) scale(1 1.01)"><text x="278.64">77.3</text><text x="326.54">80.9</text><text x="372.84">81</text><text x="422.31">80.9</text><text x="470.2">80.9</text><text x="518.1">80.9</text><text x="565.99">80.8</text><text x="612.29">81</text><text x="660.18">81</text><text x="708.07">81</text><text x="757.55">80.8</text><text x="805.44">80.3</text><text x="853.33">80.6</text><text x="901.22">80.5</text><text x="949.11">80.8</text><text x="997">80.7</text><text x="1044.88">80.4</text><text x="1092.78">80.5</text><text x="1140.67">80.2</text><text x="1188.56">80.4</text><text x="1236.44">80.3</text><text x="1284.34">80.7</text><text x="1332.23">98.2</text><text x="1380.12">99.7</text><text x="1428.01">99.8</text><text x="1475.89">99.8</text><text x="1523.79">99.9</text><text x="1571.67">99.9</text><text x="1619.04">100</text><text x="1667.46">99.9</text><text x="1715.35">99.9</text><text x="1763.24">96.6</text><text x="1811.12">96.5</text><text x="1859.02">96.6</text><text x="1906.9">96.5</text><text x="1954.8">96.6</text></g>
<g transform="translate(0 949.97) scale(1 1.01)"><text x="278.64">77.3</text><text x="326.54">80.8</text><text x="374.43">81.1</text><text x="422.31">80.8</text><text x="470.2">80.9</text><text x="518.1">80.7</text><text x="564.4">81</text><text x="613.88">80.9</text><text x="661.77">80.8</text><text x="709.65">80.9</text><text x="757.55">80.8</text><text x="805.44">80.4</text><text x="853.33">80.4</text><text x="901.22">80.5</text><text x="949.11">80.8</text><text x="997">80.9</text><text x="1044.88">80.5</text><text x="1092.78">80.4</text><text x="1140.67">80.2</text><text x="1188.56">80.4</text><text x="1236.44">80.5</text><text x="1284.34">80.6</text><text x="1332.23">98.2</text><text x="1380.12">99.8</text><text x="1427.48">100</text><text x="1475.37">100</text><text x="1523.26">100</text><text x="1571.15">100</text><text x="1619.57">99.9</text><text x="1667.46">99.9</text><text x="1715.35">99.9</text><text x="1763.24">96.6</text><text x="1811.12">96.5</text><text x="1859.02">96.4</text><text x="1906.9">96.6</text><text x="1954.8">96.5</text></g>
<g transform="translate(0 997.87) scale(1 1.01)"><text x="278.64">77.3</text><text x="324.95">81</text><text x="374.43">81.2</text><text x="420.73">81</text><text x="468.62">81</text><text x="516.51">81</text><text x="565.99">80.8</text><text x="612.29">81</text><text x="661.77">80.9</text><text x="709.65">81.1</text><text x="755.96">81</text><text x="805.44">80.6</text><text x="853.33">80.6</text><text x="901.22">80.6</text><text x="949.11">80.9</text><text x="997">80.7</text><text x="1044.88">80.4</text><text x="1092.78">80.5</text><text x="1140.67">80.3</text><text x="1188.56">80.6</text><text x="1236.44">80.5</text><text x="1284.34">80.9</text><text x="1332.23">98.3</text><text x="1380.12">99.7</text><text x="1427.48">100</text><text x="1475.37">100</text><text x="1523.26">100</text><text x="1571.15">100</text><text x="1619.57">99.9</text><text x="1667.46">99.9</text><text x="1715.35">99.9</text><text x="1763.24">96.5</text><text x="1811.12">96.4</text><text x="1859.02">96.4</text><text x="1906.9">96.4</text><text x="1954.8">96.5</text></g>
<g transform="translate(0 1045.77) scale(1 1.01)"><text x="278.64">77.6</text><text x="324.95">81</text><text x="374.43">81.3</text><text x="422.31">80.9</text><text x="470.2">80.9</text><text x="516.51">81</text><text x="565.99">80.9</text><text x="612.29">81</text><text x="660.18">81</text><text x="708.07">81</text><text x="757.55">80.9</text><text x="805.44">80.5</text><text x="853.33">80.5</text><text x="901.22">80.5</text><text x="947.52">81</text><text x="997">80.9</text><text x="1044.88">80.5</text><text x="1092.78">80.6</text><text x="1140.67">80.3</text><text x="1188.56">80.5</text><text x="1236.44">80.4</text><text x="1284.34">80.7</text><text x="1332.23">98.2</text><text x="1380.12">99.7</text><text x="1427.48">100</text><text x="1475.37">100</text><text x="1523.26">100</text><text x="1571.15">100</text><text x="1619.57">99.9</text><text x="1667.46">99.9</text><text x="1715.35">99.9</text><text x="1763.24">96.5</text><text x="1811.12">96.5</text><text x="1859.02">96.5</text><text x="1906.9">96.5</text><text x="1954.8">96.5</text></g>
<g transform="translate(0 1093.68) scale(1 1.01)"><text x="278.64">77.2</text><text x="326.54">80.9</text><text x="374.43">81.1</text><text x="422.31">80.8</text><text x="470.2">80.9</text><text x="518.1">80.9</text><text x="565.99">80.6</text><text x="613.88">80.9</text><text x="661.77">80.8</text><text x="708.07">81</text><text x="757.55">80.7</text><text x="805.44">80.3</text><text x="853.33">80.5</text><text x="901.22">80.4</text><text x="949.11">80.8</text><text x="997">80.6</text><text x="1044.88">80.3</text><text x="1092.78">80.4</text><text x="1140.67">80.3</text><text x="1188.56">80.3</text><text x="1236.44">80.4</text><text x="1284.34">80.7</text><text x="1332.23">98.2</text><text x="1380.12">99.7</text><text x="1427.48">100</text><text x="1475.37">100</text><text x="1523.26">100</text><text x="1571.15">100</text><text x="1619.57">99.9</text><text x="1667.46">99.9</text><text x="1715.35">99.9</text><text x="1763.24">96.5</text><text x="1811.12">96.4</text><text x="1859.02">96.3</text><text x="1906.9">96.4</text><text x="1954.8">96.4</text></g>
<g transform="translate(0 1141.58) scale(1 1.01)"><text x="278.64">77.4</text><text x="326.54">80.9</text><text x="372.84">81</text><text x="422.31">80.9</text><text x="470.2">80.9</text><text x="518.1">80.9</text><text x="565.99">80.8</text><text x="612.29">81</text><text x="661.77">80.9</text><text x="709.65">81.1</text><text x="757.55">80.8</text><text x="805.44">80.4</text><text x="853.33">80.6</text><text x="901.22">80.6</text><text x="949.11">80.7</text><text x="997">80.6</text><text x="1044.88">80.4</text><text x="1092.78">80.5</text><text x="1140.67">80.4</text><text x="1188.56">80.4</text><text x="1236.44">80.5</text><text x="1284.34">80.8</text><text x="1332.23">98.3</text><text x="1379.59">100</text><text x="1428.01">99.7</text><text x="1475.89">99.7</text><text x="1523.79">99.7</text><text x="1571.67">99.7</text><text x="1619.57">99.7</text><text x="1667.46">99.8</text><text x="1715.35">99.8</text><text x="1763.24">96.6</text><text x="1811.12">96.5</text><text x="1859.02">96.5</text><text x="1906.9">96.5</text><text x="1954.8">96.5</text></g>
<g transform="translate(0 1189.48) scale(1 1.01)"><text x="277.06">77</text><text x="326.54">78.1</text><text x="374.43">78.3</text><text x="422.31">78.1</text><text x="470.2">78.2</text><text x="518.1">78.2</text><text x="565.99">78.1</text><text x="612.29">78</text><text x="660.18">78</text><text x="709.65">78.1</text><text x="755.96">78</text><text x="805.44">77.7</text><text x="853.33">77.8</text><text x="901.22">77.9</text><text x="949.11">78.4</text><text x="997">78.1</text><text x="1044.88">77.8</text><text x="1092.78">77.9</text><text x="1140.67">77.8</text><text x="1188.56">77.7</text><text x="1236.44">77.9</text><text x="1284.34">78.1</text><text x="1331.7">100</text><text x="1380.12">97.7</text><text x="1428.01">97.8</text><text x="1475.89">97.8</text><text x="1523.79">97.8</text><text x="1571.67">97.8</text><text x="1619.57">97.8</text><text x="1667.46">97.8</text><text x="1715.35">97.7</text><text x="1763.24">97.5</text><text x="1811.12">97.6</text><text x="1859.02">97.6</text><text x="1906.9">97.4</text><text x="1954.8">97.4</text></g>
<g transform="translate(0 1237.38) scale(1 1.01)"><text x="278.64">97.8</text><text x="326.54">96.5</text><text x="374.43">96.5</text><text x="422.31">96.5</text><text x="470.2">96.6</text><text x="518.1">96.6</text><text x="565.99">96.8</text><text x="613.88">96.7</text><text x="661.77">96.7</text><text x="709.65">96.7</text><text x="757.55">96.5</text><text x="805.44">96.2</text><text x="853.33">96.7</text><text x="901.22">96.8</text><text x="949.11">96.4</text><text x="997">96.5</text><text x="1044.88">96.6</text><text x="1092.78">96.7</text><text x="1140.67">96.6</text><text x="1188.56">96.7</text><text x="1236.44">96.8</text><text x="1283.81">100</text><text x="1330.64">78</text><text x="1380.12">80.6</text><text x="1428.01">80.7</text><text x="1475.89">80.9</text><text x="1523.79">80.7</text><text x="1571.67">80.7</text><text x="1619.57">80.6</text><text x="1667.46">80.7</text><text x="1715.35">80.7</text><text x="1763.24">80.8</text><text x="1811.12">80.8</text><text x="1859.02">80.9</text><text x="1906.9">80.9</text><text x="1954.8">80.9</text></g>
<g transform="translate(0 1285.29) scale(1 1.01)"><text x="278.64">97.9</text><text x="326.54">96.6</text><text x="374.43">96.5</text><text x="422.31">96.6</text><text x="470.2">96.6</text><text x="518.1">96.6</text><text x="565.99">96.6</text><text x="613.88">96.7</text><text x="661.77">96.6</text><text x="709.65">96.6</text><text x="757.55">96.6</text><text x="805.44">96.3</text><text x="853.33">96.7</text><text x="901.22">96.7</text><text x="949.11">96.5</text><text x="997">96.6</text><text x="1044.88">96.8</text><text x="1092.78">96.7</text><text x="1140.67">96.7</text><text x="1188.56">96.8</text><text x="1235.92">100</text><text x="1284.34">96.7</text><text x="1332.23">77.7</text><text x="1380.12">80.4</text><text x="1428.01">80.6</text><text x="1475.89">80.8</text><text x="1523.79">80.6</text><text x="1571.67">80.6</text><text x="1619.57">80.6</text><text x="1667.46">80.5</text><text x="1715.35">80.5</text><text x="1763.24">80.6</text><text x="1811.12">80.5</text><text x="1859.02">80.4</text><text x="1906.9">80.6</text><text x="1954.8">80.6</text></g>
<g transform="translate(0 1333.19) scale(1 1.01)"><text x="278.64">97.9</text><text x="326.54">96.9</text><text x="374.43">96.9</text><text x="422.31">96.9</text><text x="470.2">96.8</text><text x="518.1">96.9</text><text x="564.4">97</text><text x="613.88">96.9</text><text x="661.77">96.9</text><text x="709.65">96.9</text><text x="757.55">96.8</text><text x="805.44">96.7</text><text x="853.33">96.7</text><text x="901.22">96.7</text><text x="949.11">96.5</text><text x="997">96.6</text><text x="1044.88">96.8</text><text x="1092.78">96.7</text><text x="1140.67">96.8</text><text x="1188.03">100</text><text x="1236.44">96.6</text><text x="1284.34">96.7</text><text x="1332.23">77.7</text><text x="1380.12">80.6</text><text x="1428.01">80.6</text><text x="1475.89">80.8</text><text x="1523.79">80.7</text><text x="1571.67">80.8</text><text x="1619.57">80.7</text><text x="1667.46">80.7</text><text x="1715.35">80.6</text><text x="1763.24">80.5</text><text x="1811.12">80.7</text><text x="1859.02">80.6</text><text x="1906.9">80.6</text><text x="1954.8">80.6</text></g>
<g transform="translate(0 1381.09) scale(1 1.01)"><text x="278.64">97.8</text><text x="326.54">96.6</text><text x="374.43">96.6</text><text x="422.31">96.6</text><text x="470.2">96.5</text><text x="518.1">96.6</text><text x="565.99">96.7</text><text x="613.88">96.6</text><text x="661.77">96.7</text><text x="709.65">96.6</text><text x="757.55">96.5</text><text x="805.44">96.4</text><text x="853.33">96.6</text><text x="901.22">96.7</text><text x="949.11">96.7</text><text x="997">96.8</text><text x="1044.88">96.9</text><text x="1092.78">96.9</text><text x="1140.14">100</text><text x="1188.56">96.7</text><text x="1236.44">96.7</text><text x="1284.34">96.6</text><text x="1332.23">77.7</text><text x="1380.12">80.2</text><text x="1428.01">80.3</text><text x="1475.89">80.4</text><text x="1523.79">80.3</text><text x="1571.67">80.2</text><text x="1619.57">80.3</text><text x="1667.46">80.1</text><text x="1715.35">80.3</text><text x="1763.24">80.2</text><text x="1811.12">80.3</text><text x="1859.02">80.2</text><text x="1906.9">80.3</text><text x="1954.8">80.4</text></g>
<g transform="translate(0 1428.99) scale(1 1.01)"><text x="278.64">97.9</text><text x="326.54">96.6</text><text x="374.43">96.5</text><text x="422.31">96.5</text><text x="470.2">96.6</text><text x="518.1">96.5</text><text x="565.99">96.9</text><text x="613.88">96.7</text><text x="661.77">96.7</text><text x="709.65">96.7</text><text x="757.55">96.5</text><text x="805.44">96.4</text><text x="853.33">96.7</text><text x="901.22">96.6</text><text x="949.11">96.7</text><text x="997">96.7</text><text x="1044.88">99.8</text><text x="1092.25">100</text><text x="1139.08">97</text><text x="1188.56">96.8</text><text x="1236.44">96.7</text><text x="1284.34">96.6</text><text x="1332.23">77.6</text><text x="1380.12">80.3</text><text x="1428.01">80.6</text><text x="1475.89">80.8</text><text x="1523.79">80.5</text><text x="1571.67">80.4</text><text x="1619.57">80.7</text><text x="1667.46">80.5</text><text x="1715.35">80.5</text><text x="1763.24">80.4</text><text x="1811.12">80.4</text><text x="1859.02">80.4</text><text x="1906.9">80.3</text><text x="1954.8">80.4</text></g>
<g transform="translate(0 1476.89) scale(1 1.01)"><text x="278.64">97.9</text><text x="326.54">96.7</text><text x="374.43">96.6</text><text x="422.31">96.6</text><text x="470.2">96.6</text><text x="518.1">96.6</text><text x="565.99">96.8</text><text x="613.88">96.8</text><text x="661.77">96.7</text><text x="709.65">96.8</text><text x="757.55">96.5</text><text x="805.44">96.4</text><text x="853.33">96.7</text><text x="901.22">96.6</text><text x="949.11">96.8</text><text x="997">96.8</text><text x="1044.36">100</text><text x="1092.78">99.8</text><text x="1140.67">96.9</text><text x="1188.56">96.8</text><text x="1236.44">96.7</text><text x="1284.34">96.6</text><text x="1332.23">77.7</text><text x="1380.12">80.3</text><text x="1428.01">80.6</text><text x="1475.89">80.6</text><text x="1523.79">80.4</text><text x="1571.67">80.6</text><text x="1619.57">80.6</text><text x="1667.46">80.5</text><text x="1715.35">80.5</text><text x="1763.24">80.4</text><text x="1811.12">80.4</text><text x="1859.02">80.4</text><text x="1906.9">80.3</text><text x="1954.8">80.5</text></g>
<g transform="translate(0 1524.79) scale(1 1.01)"><text x="278.64">97.6</text><text x="326.54">96.5</text><text x="374.43">96.5</text><text x="422.31">96.5</text><text x="470.2">96.6</text><text x="518.1">96.5</text><text x="565.99">96.7</text><text x="613.88">96.6</text><text x="661.77">96.6</text><text x="709.65">96.6</text><text x="757.55">96.4</text><text x="805.44">96.1</text><text x="853.33">96.4</text><text x="901.22">96.5</text><text x="948.58">100</text><text x="996.47">100</text><text x="1044.88">96.7</text><text x="1092.78">96.8</text><text x="1140.67">96.8</text><text x="1188.56">96.6</text><text x="1236.44">96.5</text><text x="1284.34">96.5</text><text x="1332.23">77.9</text><text x="1380.12">80.7</text><text x="1428.01">80.8</text><text x="1475.89">80.9</text><text x="1523.79">80.8</text><text x="1571.67">80.8</text><text x="1619.57">80.9</text><text x="1667.46">80.9</text><text x="1715.35">80.9</text><text x="1763.24">80.6</text><text x="1811.12">80.7</text><text x="1859.02">80.7</text><text x="1906.9">80.6</text><text x="1954.8">80.6</text></g>
<g transform="translate(0 1572.7) scale(1 1.01)"><text x="278.64">97.6</text><text x="326.54">96.6</text><text x="374.43">96.5</text><text x="422.31">96.4</text><text x="470.2">96.5</text><text x="518.1">96.5</text><text x="565.99">96.6</text><text x="613.88">96.5</text><text x="661.77">96.7</text><text x="709.65">96.6</text><text x="757.55">96.4</text><text x="805.44">96.2</text><text x="853.33">96.4</text><text x="901.22">96.3</text><text x="948.58">100</text><text x="996.47">100</text><text x="1044.88">96.8</text><text x="1092.78">96.8</text><text x="1140.67">96.8</text><text x="1188.56">96.6</text><text x="1236.44">96.4</text><text x="1284.34">96.5</text><text x="1330.64">78</text><text x="1380.12">80.8</text><text x="1428.01">80.8</text><text x="1475.89">81.1</text><text x="1523.79">80.9</text><text x="1571.67">81.1</text><text x="1619.57">80.9</text><text x="1667.46">81.1</text><text x="1713.76">81</text><text x="1763.24">80.9</text><text x="1811.12">80.9</text><text x="1859.02">80.9</text><text x="1906.9">80.8</text><text x="1954.8">80.9</text></g>
<g transform="translate(0 1620.6) scale(1 1.01)"><text x="278.64">97.8</text><text x="326.54">96.6</text><text x="374.43">96.6</text><text x="422.31">96.5</text><text x="470.2">96.6</text><text x="518.1">96.6</text><text x="565.99">96.6</text><text x="613.88">96.6</text><text x="661.77">96.6</text><text x="709.65">96.6</text><text x="757.55">96.5</text><text x="805.44">96.3</text><text x="852.8">100</text><text x="900.69">100</text><text x="949.11">96.5</text><text x="997">96.5</text><text x="1044.88">96.7</text><text x="1092.78">96.6</text><text x="1140.67">96.6</text><text x="1188.56">96.6</text><text x="1236.44">96.8</text><text x="1284.34">96.7</text><text x="1332.23">77.8</text><text x="1380.12">80.5</text><text x="1428.01">80.6</text><text x="1475.89">80.7</text><text x="1523.79">80.6</text><text x="1571.67">80.6</text><text x="1619.57">80.6</text><text x="1667.46">80.6</text><text x="1715.35">80.6</text><text x="1763.24">80.7</text><text x="1811.12">80.9</text><text x="1859.02">80.9</text><text x="1906.9">80.9</text><text x="1953.21">81</text></g>
<g transform="translate(0 1668.5) scale(1 1.01)"><text x="278.64">97.8</text><text x="326.54">96.5</text><text x="374.43">96.5</text><text x="422.31">96.6</text><text x="470.2">96.6</text><text x="518.1">96.6</text><text x="565.99">96.7</text><text x="613.88">96.6</text><text x="661.77">96.7</text><text x="709.65">96.6</text><text x="757.55">96.4</text><text x="805.44">96.3</text><text x="852.8">100</text><text x="900.69">100</text><text x="949.11">96.4</text><text x="997">96.5</text><text x="1044.88">96.7</text><text x="1092.78">96.6</text><text x="1140.67">96.6</text><text x="1188.56">96.7</text><text x="1236.44">96.9</text><text x="1284.34">96.7</text><text x="1332.23">77.8</text><text x="1380.12">80.5</text><text x="1428.01">80.4</text><text x="1475.89">80.6</text><text x="1523.79">80.5</text><text x="1571.67">80.6</text><text x="1619.57">80.5</text><text x="1667.46">80.7</text><text x="1715.35">80.6</text><text x="1763.24">80.7</text><text x="1809.54">81</text><text x="1859.02">80.9</text><text x="1906.9">80.9</text><text x="1953.21">81</text></g>
<g transform="translate(0 1716.4) scale(1 1.01)"><text x="278.64">97.8</text><text x="326.54">96.5</text><text x="374.43">96.5</text><text x="422.31">96.4</text><text x="470.2">96.5</text><text x="518.1">96.4</text><text x="565.99">96.5</text><text x="613.88">96.5</text><text x="661.77">96.5</text><text x="709.65">96.4</text><text x="757.02">100</text><text x="804.91">100</text><text x="853.33">96.3</text><text x="901.22">96.3</text><text x="949.11">96.3</text><text x="997">96.3</text><text x="1044.88">96.3</text><text x="1092.78">96.3</text><text x="1140.67">96.4</text><text x="1188.56">96.7</text><text x="1236.44">96.5</text><text x="1284.34">96.3</text><text x="1332.23">77.6</text><text x="1380.12">80.4</text><text x="1428.01">80.4</text><text x="1475.89">80.7</text><text x="1523.79">80.4</text><text x="1571.67">80.5</text><text x="1619.57">80.5</text><text x="1667.46">80.5</text><text x="1715.35">80.5</text><text x="1763.24">80.4</text><text x="1811.12">80.3</text><text x="1859.02">80.3</text><text x="1906.9">80.4</text><text x="1954.8">80.3</text></g>
<g transform="translate(0 1764.3) scale(1 1.01)"><text x="278.64">97.8</text><text x="326.54">96.6</text><text x="374.43">96.6</text><text x="422.31">96.5</text><text x="470.2">96.5</text><text x="518.1">96.5</text><text x="565.99">96.6</text><text x="613.88">96.5</text><text x="661.77">96.5</text><text x="709.65">96.5</text><text x="757.02">100</text><text x="804.91">100</text><text x="853.33">96.3</text><text x="901.22">96.4</text><text x="949.11">96.3</text><text x="997">96.3</text><text x="1044.88">96.4</text><text x="1092.78">96.4</text><text x="1140.67">96.5</text><text x="1188.56">96.7</text><text x="1236.44">96.6</text><text x="1284.34">96.3</text><text x="1332.23">77.8</text><text x="1380.12">80.8</text><text x="1428.01">80.8</text><text x="1475.89">81.1</text><text x="1523.79">80.9</text><text x="1571.67">80.9</text><text x="1619.57">80.8</text><text x="1667.46">80.8</text><text x="1713.76">81</text><text x="1763.24">80.6</text><text x="1811.12">80.6</text><text x="1859.02">80.5</text><text x="1906.9">80.6</text><text x="1954.8">80.5</text></g>
<g transform="translate(0 1812.21) scale(1 1.01)"><text x="278.64">97.9</text><text x="326.54">96.8</text><text x="374.43">96.8</text><text x="422.31">96.8</text><text x="470.2">96.9</text><text x="518.1">96.8</text><text x="565.99">99.5</text><text x="613.88">99.7</text><text x="661.77">99.7</text><text x="709.13">100</text><text x="757.55">96.5</text><text x="805.44">96.3</text><text x="853.33">96.6</text><text x="901.22">96.7</text><text x="949.11">96.7</text><text x="997">96.7</text><text x="1044.88">96.6</text><text x="1092.78">96.7</text><text x="1140.67">96.6</text><text x="1188.56">96.9</text><text x="1236.44">96.7</text><text x="1284.34">96.7</text><text x="1330.64">78</text><text x="1380.12">80.8</text><text x="1428.01">80.9</text><text x="1475.89">81.2</text><text x="1523.79">80.9</text><text x="1570.09">81</text><text x="1619.57">80.9</text><text x="1667.46">80.9</text><text x="1713.76">81</text><text x="1763.24">80.7</text><text x="1811.12">80.7</text><text x="1859.02">80.6</text><text x="1906.9">80.6</text><text x="1954.8">80.7</text></g>
<g transform="translate(0 1860.11) scale(1 1.01)"><text x="278.64">97.9</text><text x="326.54">96.8</text><text x="374.43">96.7</text><text x="422.31">96.8</text><text x="470.2">96.8</text><text x="518.1">96.8</text><text x="565.99">99.4</text><text x="613.88">99.7</text><text x="661.24">100</text><text x="709.65">99.7</text><text x="757.55">96.6</text><text x="805.44">96.3</text><text x="853.33">96.5</text><text x="901.22">96.6</text><text x="949.11">96.6</text><text x="997">96.7</text><text x="1044.88">96.7</text><text x="1092.78">96.7</text><text x="1140.67">96.7</text><text x="1188.56">96.8</text><text x="1236.44">96.7</text><text x="1284.34">96.8</text><text x="1332.23">78.1</text><text x="1380.12">80.9</text><text x="1428.01">80.9</text><text x="1475.89">81.1</text><text x="1523.79">80.9</text><text x="1570.09">81</text><text x="1619.57">80.9</text><text x="1667.46">80.9</text><text x="1713.76">81</text><text x="1763.24">80.7</text><text x="1811.12">80.7</text><text x="1859.02">80.6</text><text x="1906.9">80.6</text><text x="1954.8">80.6</text></g>
<g transform="translate(0 1908.01) scale(1 1.01)"><text x="278.64">97.8</text><text x="326.54">96.8</text><text x="374.43">96.7</text><text x="422.31">96.8</text><text x="470.2">96.8</text><text x="518.1">96.8</text><text x="565.99">99.5</text><text x="613.35">100</text><text x="661.77">99.7</text><text x="709.65">99.7</text><text x="757.55">96.5</text><text x="805.44">96.2</text><text x="853.33">96.6</text><text x="901.22">96.6</text><text x="949.11">96.7</text><text x="997">96.6</text><text x="1044.88">96.6</text><text x="1092.78">96.7</text><text x="1140.67">96.7</text><text x="1188.56">96.9</text><text x="1236.44">96.7</text><text x="1284.34">96.8</text><text x="1330.64">78</text><text x="1380.12">80.8</text><text x="1428.01">80.9</text><text x="1475.89">81.1</text><text x="1523.79">80.8</text><text x="1570.09">81</text><text x="1617.98">81</text><text x="1667.46">80.9</text><text x="1715.35">80.9</text><text x="1763.24">80.7</text><text x="1811.12">80.7</text><text x="1859.02">80.8</text><text x="1906.9">80.8</text><text x="1954.8">80.7</text></g>
<g transform="translate(0 1955.91) scale(1 1.01)"><text x="278.64">97.9</text><text x="326.54">96.9</text><text x="374.43">96.8</text><text x="422.31">96.8</text><text x="470.2">96.9</text><text x="518.1">96.8</text><text x="565.46">100</text><text x="613.88">99.4</text><text x="661.77">99.4</text><text x="709.65">99.4</text><text x="757.55">96.6</text><text x="805.44">96.4</text><text x="853.33">96.6</text><text x="901.22">96.6</text><text x="949.11">96.7</text><text x="997">96.8</text><text x="1044.88">96.7</text><text x="1092.78">96.8</text><text x="1140.67">96.7</text><text x="1188.56">96.9</text><text x="1236.44">96.5</text><text x="1284.34">96.7</text><text x="1330.64">78</text><text x="1380.12">80.9</text><text x="1428.01">80.9</text><text x="1475.89">81.1</text><text x="1523.79">80.9</text><text x="1571.67">81.1</text><text x="1617.98">81</text><text x="1667.46">80.9</text><text x="1715.35">80.9</text><text x="1763.24">80.8</text><text x="1811.12">80.6</text><text x="1859.02">80.7</text><text x="1906.9">80.6</text><text x="1954.8">80.7</text></g>
<g transform="translate(0 2003.81) scale(1 1.01)"><text x="277.06">98</text><text x="326.54">99.8</text><text x="374.43">99.8</text><text x="422.31">99.8</text><text x="470.2">99.9</text><text x="517.57">100</text><text x="565.99">96.7</text><text x="613.88">96.7</text><text x="661.77">96.7</text><text x="709.65">96.7</text><text x="757.55">96.5</text><text x="805.44">96.5</text><text x="853.33">96.6</text><text x="901.22">96.7</text><text x="949.11">96.5</text><text x="997">96.5</text><text x="1044.88">96.5</text><text x="1092.78">96.6</text><text x="1140.67">96.7</text><text x="1188.56">96.9</text><text x="1236.44">96.7</text><text x="1284.34">96.6</text><text x="1332.23">78.1</text><text x="1380.12">80.8</text><text x="1428.01">80.9</text><text x="1475.89">81.1</text><text x="1523.79">80.9</text><text x="1571.67">80.8</text><text x="1619.57">80.9</text><text x="1665.87">81</text><text x="1713.76">81</text><text x="1763.24">80.7</text><text x="1811.12">80.8</text><text x="1859.02">80.8</text><text x="1906.9">80.7</text><text x="1954.8">80.8</text></g>
<g transform="translate(0 2051.72) scale(1 1.01)"><text x="278.64">98.1</text><text x="326.54">99.9</text><text x="374.43">99.8</text><text x="422.31">99.8</text><text x="469.68">100</text><text x="518.1">99.9</text><text x="565.99">96.7</text><text x="613.88">96.8</text><text x="661.77">96.7</text><text x="709.65">96.8</text><text x="757.55">96.5</text><text x="805.44">96.4</text><text x="853.33">96.7</text><text x="901.22">96.7</text><text x="949.11">96.5</text><text x="997">96.5</text><text x="1044.88">96.6</text><text x="1092.78">96.6</text><text x="1140.67">96.7</text><text x="1188.56">96.9</text><text x="1236.44">96.7</text><text x="1284.34">96.5</text><text x="1332.23">78.1</text><text x="1380.12">80.9</text><text x="1428.01">80.9</text><text x="1475.89">81.2</text><text x="1523.79">80.9</text><text x="1571.67">80.9</text><text x="1619.57">80.9</text><text x="1667.46">81.1</text><text x="1715.35">81.2</text><text x="1763.24">80.8</text><text x="1811.12">80.8</text><text x="1859.02">80.8</text><text x="1906.9">80.9</text><text x="1954.8">80.9</text></g>
<g transform="translate(0 2099.62) scale(1 1.01)"><text x="278.64">98.1</text><text x="326.54">99.8</text><text x="374.43">99.7</text><text x="421.79">100</text><text x="470.2">99.8</text><text x="518.1">99.8</text><text x="565.99">96.7</text><text x="613.88">96.8</text><text x="661.77">96.8</text><text x="709.65">96.7</text><text x="757.55">96.6</text><text x="805.44">96.5</text><text x="853.33">96.6</text><text x="901.22">96.7</text><text x="949.11">96.5</text><text x="997">96.5</text><text x="1044.88">96.6</text><text x="1092.78">96.7</text><text x="1140.67">96.7</text><text x="1186.97">97</text><text x="1236.44">96.6</text><text x="1284.34">96.6</text><text x="1330.64">78</text><text x="1380.12">80.9</text><text x="1428.01">80.9</text><text x="1475.89">81.1</text><text x="1523.79">80.8</text><text x="1571.67">80.9</text><text x="1617.98">81</text><text x="1667.46">81.1</text><text x="1715.35">81.1</text><text x="1763.24">80.7</text><text x="1811.12">80.7</text><text x="1859.02">80.7</text><text x="1906.9">80.7</text><text x="1954.8">80.8</text></g>
<g transform="translate(0 2147.52) scale(1 1.01)"><text x="278.64">98.1</text><text x="326.54">99.8</text><text x="373.9">100</text><text x="422.31">99.8</text><text x="470.2">99.8</text><text x="518.1">99.8</text><text x="565.99">96.8</text><text x="613.88">96.7</text><text x="661.77">96.8</text><text x="709.65">96.8</text><text x="757.55">96.6</text><text x="805.44">96.4</text><text x="853.33">96.6</text><text x="901.22">96.7</text><text x="949.11">96.5</text><text x="997">96.6</text><text x="1044.88">96.6</text><text x="1092.78">96.6</text><text x="1140.67">96.6</text><text x="1188.56">96.9</text><text x="1236.44">96.6</text><text x="1284.34">96.6</text><text x="1332.23">78.1</text><text x="1378.53">81</text><text x="1426.42">81</text><text x="1475.89">81.3</text><text x="1522.2">81</text><text x="1571.67">80.9</text><text x="1617.98">81</text><text x="1667.46">81.1</text><text x="1715.35">81.1</text><text x="1763.24">80.7</text><text x="1811.12">80.9</text><text x="1859.02">80.8</text><text x="1906.9">80.8</text><text x="1954.8">80.8</text></g>
<g transform="translate(0 2195.42) scale(1 1.01)"><text x="278.64">98.1</text><text x="326.01">100</text><text x="374.43">99.8</text><text x="422.31">99.7</text><text x="470.2">99.9</text><text x="518.1">99.8</text><text x="565.99">96.7</text><text x="613.88">96.8</text><text x="661.77">96.8</text><text x="709.65">96.8</text><text x="757.55">96.6</text><text x="805.44">96.3</text><text x="853.33">96.6</text><text x="901.22">96.7</text><text x="949.11">96.5</text><text x="997">96.5</text><text x="1044.88">96.5</text><text x="1092.78">96.6</text><text x="1140.67">96.7</text><text x="1188.56">96.9</text><text x="1236.44">96.7</text><text x="1284.34">96.5</text><text x="1332.23">78.1</text><text x="1380.12">80.9</text><text x="1428.01">80.9</text><text x="1475.89">81.1</text><text x="1523.79">80.9</text><text x="1571.67">80.9</text><text x="1619.57">80.9</text><text x="1667.46">80.8</text><text x="1713.76">81</text><text x="1763.24">80.7</text><text x="1811.12">80.7</text><text x="1859.02">80.7</text><text x="1906.9">80.6</text><text x="1954.8">80.7</text></g>
<g transform="translate(0 2243.32) scale(1 1.01)"><text x="278.12">100</text><text x="326.54">97.7</text><text x="374.43">97.8</text><text x="422.31">97.7</text><text x="470.2">97.8</text><text x="518.1">97.7</text><text x="565.99">97.5</text><text x="613.88">97.2</text><text x="661.77">97.4</text><text x="709.65">97.3</text><text x="757.55">97.4</text><text x="805.44">97.3</text><text x="853.33">97.5</text><text x="901.22">97.5</text><text x="949.11">97.3</text><text x="997">97.2</text><text x="1044.88">97.5</text><text x="1092.78">97.5</text><text x="1140.67">97.3</text><text x="1188.56">97.5</text><text x="1236.44">97.4</text><text x="1284.34">97.3</text><text x="1332.23">76.8</text><text x="1380.12">77.6</text><text x="1428.01">77.7</text><text x="1474.31">78</text><text x="1523.79">77.7</text><text x="1571.67">77.7</text><text x="1619.57">77.7</text><text x="1667.46">77.7</text><text x="1715.35">77.8</text><text x="1763.24">77.6</text><text x="1811.12">77.8</text><text x="1859.02">77.8</text><text x="1906.9">77.8</text><text x="1954.8">77.8</text></g>
</g>
<path d="M247 560.96h4.6M247 608.87h4.6M247 656.77h4.6M247 704.68h4.6M247 752.6h4.6M247 800.5h4.6M247 848.41h4.6M247 896.33h4.6M247 944.23h4.6M247 992.14h4.6M247 1040.05h4.6M247 1087.96h4.6M247 1135.88h4.6M247 1183.78h4.6M247 1231.69h4.6M247 1327.51h4.6M247 1423.34h4.6M247 1471.24h4.6M247 1519.15h4.6M247 1567.06h4.6M247 1614.97h4.6M247 1662.88h4.6M247 1710.79h4.6M247 1758.7h4.6M247 1806.62h4.6M247 1854.52h4.6M247 1902.43h4.6M247 1950.34h4.6M247 1998.25h4.6M247 2046.16h4.6M247 2094.07h4.6M247 2141.98h4.6M247 2189.89h4.6M247 2237.8h4.6M279.94 2265.9v4.6M327.84 2265.9v4.6M375.73 2265.9v4.6M423.62 2265.9v4.6M471.5 2265.9v4.6M519.39 2265.9v4.6M567.29 2265.9v4.6M615.17 2265.9v4.6M663.07 2265.9v4.6M710.95 2265.9v4.6M758.85 2265.9v4.6M806.74 2265.9v4.6M854.62 2265.9v4.6M902.51 2265.9v4.6M950.4 2265.9v4.6M998.29 2265.9v4.6M1046.18 2265.9v4.6M1094.08 2265.9v4.6M1141.97 2265.9v4.6M1189.86 2265.9v4.6M1237.74 2265.9v4.6M1285.63 2265.9v4.6M1333.53 2265.9v4.6M1381.41 2265.9v4.6M1429.31 2265.9v4.6M1477.19 2265.9v4.6M1525.09 2265.9v4.6M1572.97 2265.9v4.6M1620.87 2265.9v4.6M1668.76 2265.9v4.6M1716.64 2265.9v4.6M1764.54 2265.9v4.6M1812.42 2265.9v4.6M1860.32 2265.9v4.6M1908.2 2265.9v4.6M1956.1 2265.9v4.6" fill="none" stroke="#444" stroke-width="1.2" stroke-opacity="0.85"/>
<g class="rl">
<text transform="translate(244.35 571.36) scale(1 1.04)">C. stinkeris NA2</text>
<text transform="translate(244.35 619.26) scale(1 1.04)">C. stinkeris NA1</text>
<text transform="translate(244.35 667.17) scale(1 1.04)">C. stinkeris ED1</text>
<text transform="translate(244.35 715.08) scale(1 1.04)">C. stinkeris ED2</text>
<text transform="translate(244.35 763) scale(1 1.04)">C. stinkeris NA3</text>
<text transform="translate(244.35 810.9) scale(1 1.04)">C. noahi EL1</text>
<text transform="translate(244.35 858.81) scale(1 1.04)">C. noahi EL2</text>
<text transform="translate(244.35 906.73) scale(1 1.04)">C. noahi NA2</text>
<text transform="translate(244.35 954.63) scale(1 1.04)">C. noahi NE2</text>
<text transform="translate(244.35 1002.54) scale(1 1.04)">C. noahi NE1</text>
<text transform="translate(244.35 1050.45) scale(1 1.04)">C. noahi NE4</text>
<text transform="translate(244.35 1098.37) scale(1 1.04)">C. noahi NE3</text>
<text transform="translate(244.35 1146.28) scale(1 1.04)">C. noahi NA1</text>
<text transform="translate(244.35 1194.18) scale(1 1.04)">MAG 73</text>
<text transform="translate(244.35 1242.1) scale(1 1.04)">JMF<tspan dy="-3.9">_</tspan><tspan dy="3.9">08 NE1</tspan></text>
<text transform="translate(244.35 1290.01) scale(1 1.04)">VBCF<tspan dy="-3.9">_</tspan><tspan dy="3.9">06 NA8</tspan></text>
<text transform="translate(244.35 1337.91) scale(1 1.04)">JMF<tspan dy="-3.9">_</tspan><tspan dy="3.9">06 NA1</tspan></text>
<text transform="translate(244.35 1385.83) scale(1 1.04)">JMF<tspan dy="-3.9">_</tspan><tspan dy="3.9">04 NA10</tspan></text>
<text transform="translate(244.35 1433.74) scale(1 1.04)">JMF<tspan dy="-3.9">_</tspan><tspan dy="3.9">15 NE4</tspan></text>
<text transform="translate(244.35 1481.64) scale(1 1.04)">JMF<tspan dy="-3.9">_</tspan><tspan dy="3.9">02 ED1</tspan></text>
<text transform="translate(244.35 1529.56) scale(1 1.04)">JMF<tspan dy="-3.9">_</tspan><tspan dy="3.9">14 EL1</tspan></text>
<text transform="translate(244.35 1577.46) scale(1 1.04)">JMF<tspan dy="-3.9">_</tspan><tspan dy="3.9">10 EL2</tspan></text>
<text transform="translate(244.35 1625.38) scale(1 1.04)">VBCF<tspan dy="-3.9">_</tspan><tspan dy="3.9">05 NA6</tspan></text>
<text transform="translate(244.35 1673.29) scale(1 1.04)">VBCF<tspan dy="-3.9">_</tspan><tspan dy="3.9">04 NA7</tspan></text>
<text transform="translate(244.35 1721.19) scale(1 1.04)">JMF<tspan dy="-3.9">_</tspan><tspan dy="3.9">03 NE3</tspan></text>
<text transform="translate(244.35 1769.11) scale(1 1.04)">JMF<tspan dy="-3.9">_</tspan><tspan dy="3.9">01 NE2</tspan></text>
<text transform="translate(244.35 1817.02) scale(1 1.04)">VBCF<tspan dy="-3.9">_</tspan><tspan dy="3.9">08 NA3</tspan></text>
<text transform="translate(244.35 1864.92) scale(1 1.04)">VBCF<tspan dy="-3.9">_</tspan><tspan dy="3.9">02 NA5</tspan></text>
<text transform="translate(244.35 1912.84) scale(1 1.04)">VBCF<tspan dy="-3.9">_</tspan><tspan dy="3.9">07 NA4</tspan></text>
<text transform="translate(244.35 1960.74) scale(1 1.04)">VBCF<tspan dy="-3.9">_</tspan><tspan dy="3.9">01 NA2</tspan></text>
<text transform="translate(244.35 2008.65) scale(1 1.04)">JMF<tspan dy="-3.9">_</tspan><tspan dy="3.9">09 ED2</tspan></text>
<text transform="translate(244.35 2056.57) scale(1 1.04)">JMF<tspan dy="-3.9">_</tspan><tspan dy="3.9">05 ED3</tspan></text>
<text transform="translate(244.35 2104.47) scale(1 1.04)">VBCF<tspan dy="-3.9">_</tspan><tspan dy="3.9">03 NA9</tspan></text>
<text transform="translate(244.35 2152.38) scale(1 1.04)">JMF<tspan dy="-3.9">_</tspan><tspan dy="3.9">07 ED4</tspan></text>
<text transform="translate(244.35 2200.3) scale(1 1.04)">JMF<tspan dy="-3.9">_</tspan><tspan dy="3.9">11 EL3</tspan></text>
<text transform="translate(244.35 2248.2) scale(1 1.04)">MAG 61</text>
</g>
<g class="cl">
<text transform="translate(287.05 2274.65) rotate(-90) scale(1 1.04)">MAG 61</text>
<text transform="translate(335.09 2274.65) rotate(-90) scale(1 1.04)">JMF<tspan dy="-3.9">_</tspan><tspan dy="3.9">11 EL3</tspan></text>
<text transform="translate(383.13 2274.65) rotate(-90) scale(1 1.04)">JMF<tspan dy="-3.9">_</tspan><tspan dy="3.9">07 ED4</tspan></text>
<text transform="translate(431.17 2274.65) rotate(-90) scale(1 1.04)">VBCF<tspan dy="-3.9">_</tspan><tspan dy="3.9">03 NA9</tspan></text>
<text transform="translate(479.21 2274.65) rotate(-90) scale(1 1.04)">JMF<tspan dy="-3.9">_</tspan><tspan dy="3.9">05 ED3</tspan></text>
<text transform="translate(527.25 2274.65) rotate(-90) scale(1 1.04)">JMF<tspan dy="-3.9">_</tspan><tspan dy="3.9">09 ED2</tspan></text>
<text transform="translate(575.29 2274.65) rotate(-90) scale(1 1.04)">VBCF<tspan dy="-3.9">_</tspan><tspan dy="3.9">01 NA2</tspan></text>
<text transform="translate(623.33 2274.65) rotate(-90) scale(1 1.04)">VBCF<tspan dy="-3.9">_</tspan><tspan dy="3.9">07 NA4</tspan></text>
<text transform="translate(671.37 2274.65) rotate(-90) scale(1 1.04)">VBCF<tspan dy="-3.9">_</tspan><tspan dy="3.9">02 NA5</tspan></text>
<text transform="translate(719.41 2274.65) rotate(-90) scale(1 1.04)">VBCF<tspan dy="-3.9">_</tspan><tspan dy="3.9">08 NA3</tspan></text>
<text transform="translate(767.45 2274.65) rotate(-90) scale(1 1.04)">JMF<tspan dy="-3.9">_</tspan><tspan dy="3.9">01 NE2</tspan></text>
<text transform="translate(815.49 2274.65) rotate(-90) scale(1 1.04)">JMF<tspan dy="-3.9">_</tspan><tspan dy="3.9">03 NE3</tspan></text>
<text transform="translate(863.53 2274.65) rotate(-90) scale(1 1.04)">VBCF<tspan dy="-3.9">_</tspan><tspan dy="3.9">04 NA7</tspan></text>
<text transform="translate(911.57 2274.65) rotate(-90) scale(1 1.04)">VBCF<tspan dy="-3.9">_</tspan><tspan dy="3.9">05 NA6</tspan></text>
<text transform="translate(959.61 2274.65) rotate(-90) scale(1 1.04)">JMF<tspan dy="-3.9">_</tspan><tspan dy="3.9">10 EL2</tspan></text>
<text transform="translate(1007.65 2274.65) rotate(-90) scale(1 1.04)">JMF<tspan dy="-3.9">_</tspan><tspan dy="3.9">14 EL1</tspan></text>
<text transform="translate(1055.69 2274.65) rotate(-90) scale(1 1.04)">JMF<tspan dy="-3.9">_</tspan><tspan dy="3.9">02 ED1</tspan></text>
<text transform="translate(1103.73 2274.65) rotate(-90) scale(1 1.04)">JMF<tspan dy="-3.9">_</tspan><tspan dy="3.9">15 NE4</tspan></text>
<text transform="translate(1151.77 2274.65) rotate(-90) scale(1 1.04)">JMF<tspan dy="-3.9">_</tspan><tspan dy="3.9">04 NA10</tspan></text>
<text transform="translate(1199.81 2274.65) rotate(-90) scale(1 1.04)">JMF<tspan dy="-3.9">_</tspan><tspan dy="3.9">06 NA1</tspan></text>
<text transform="translate(1247.85 2274.65) rotate(-90) scale(1 1.04)">VBCF<tspan dy="-3.9">_</tspan><tspan dy="3.9">06 NA8</tspan></text>
<text transform="translate(1295.89 2274.65) rotate(-90) scale(1 1.04)">JMF<tspan dy="-3.9">_</tspan><tspan dy="3.9">08 NE1</tspan></text>
<text transform="translate(1343.93 2274.65) rotate(-90) scale(1 1.04)">MAG 73</text>
<text transform="translate(1391.97 2274.65) rotate(-90) scale(1 1.04)">C. noahi NA1</text>
<text transform="translate(1440.01 2274.65) rotate(-90) scale(1 1.04)">C. noahi NE3</text>
<text transform="translate(1488.05 2274.65) rotate(-90) scale(1 1.04)">C. noahi NE4</text>
<text transform="translate(1536.09 2274.65) rotate(-90) scale(1 1.04)">C. noahi NE1</text>
<text transform="translate(1584.13 2274.65) rotate(-90) scale(1 1.04)">C. noahi NE2</text>
<text transform="translate(1632.17 2274.65) rotate(-90) scale(1 1.04)">C. noahi NA2</text>
<text transform="translate(1680.21 2274.65) rotate(-90) scale(1 1.04)">C. noahi EL2</text>
<text transform="translate(1728.25 2274.65) rotate(-90) scale(1 1.04)">C. noahi EL1</text>
<text transform="translate(1776.29 2274.65) rotate(-90) scale(1 1.04)">C. stinkeris NA3</text>
<text transform="translate(1824.33 2274.65) rotate(-90) scale(1 1.04)">C. stinkeris ED2</text>
<text transform="translate(1872.37 2274.65) rotate(-90) scale(1 1.04)">C. stinkeris ED1</text>
<text transform="translate(1920.41 2274.65) rotate(-90) scale(1 1.04)">C. stinkeris NA1</text>
<text transform="translate(1968.45 2274.65) rotate(-90) scale(1 1.04)">C. stinkeris NA2</text>
</g>
<defs><linearGradient id="lg" x1="0" y1="0" x2="1" y2="0"><stop offset="0" stop-color="#24b1e9"/><stop offset="0.05" stop-color="#3db5ea"/><stop offset="0.1" stop-color="#4fb9eb"/><stop offset="0.15" stop-color="#5ebced"/><stop offset="0.2" stop-color="#6bc0ee"/><stop offset="0.25" stop-color="#77c4ef"/><stop offset="0.3" stop-color="#82c8f0"/><stop offset="0.35" stop-color="#8dccf1"/><stop offset="0.4" stop-color="#97d0f2"/><stop offset="0.45" stop-color="#a0d4f3"/><stop offset="0.5" stop-color="#aad7f4"/><stop offset="0.55" stop-color="#b3dbf5"/><stop offset="0.6" stop-color="#bcdff7"/><stop offset="0.65" stop-color="#c5e3f8"/><stop offset="0.7" stop-color="#cde7f9"/><stop offset="0.75" stop-color="#d6ebfa"/><stop offset="0.8" stop-color="#deeffb"/><stop offset="0.85" stop-color="#e6f3fc"/><stop offset="0.9" stop-color="#eff7fd"/><stop offset="0.95" stop-color="#f7fbfe"/><stop offset="1" stop-color="#ffffff"/></linearGradient></defs>
<rect x="1576.4" y="320.4" width="398.9" height="79.4" fill="url(#lg)"/>
<path d="M1676.5 320.4v12M1773.5 320.4v12M1875.8 320.4v12" stroke="#fff" stroke-opacity="0.4" stroke-width="1.3" fill="none"/>
<g class="lg">
<text transform="translate(1779.4 264.4) scale(1 1.04)" font-size="42">ANI</text>
<text transform="translate(1592.1 316) scale(1 1.02)" font-size="27.5">100.0</text>
<text transform="translate(1685.4 316) scale(1 1.02)" font-size="27.5">97.5</text>
<text transform="translate(1778.8 316) scale(1 1.02)" font-size="27.5">95.0</text>
<text transform="translate(1872.2 316) scale(1 1.02)" font-size="27.5">92.5</text>
<text transform="translate(1965.6 316) scale(1 1.02)" font-size="27.5">90.0</text>
</g>
<g shape-rendering="crispEdges">
<rect x="1994.2" y="537" width="4.4" height="238.5" fill="#2e8ba8"/>
<rect x="1994.2" y="775.5" width="4.4" height="376.6" fill="#5db761"/>
<rect x="2082" y="537" width="4.4" height="671" fill="#d01f27"/>
<rect x="2082" y="1208" width="4.4" height="1053.7" fill="#e3c132"/>
</g>
<text class="an" transform="translate(2048.3 652.8) rotate(-90) scale(1.006 1.04)" fill="#2e8ba8">C. stinkeris</text>
<text class="an" transform="translate(2048.3 942.9) rotate(-90) scale(1.007 1.04)" fill="#5db761">C. noahi</text>
<text class="an" transform="translate(2151.9 862.25) rotate(-90) scale(1.004 1.04)" fill="#d01f27">Campylobacteraceae (MAG 73)</text>
<text class="an" transform="translate(2151.9 1725.1) rotate(-90) scale(1.0034 1.04)" fill="#e3c132">Campylobacteraceae (MAG 61)</text>
</svg>
</body></html>
